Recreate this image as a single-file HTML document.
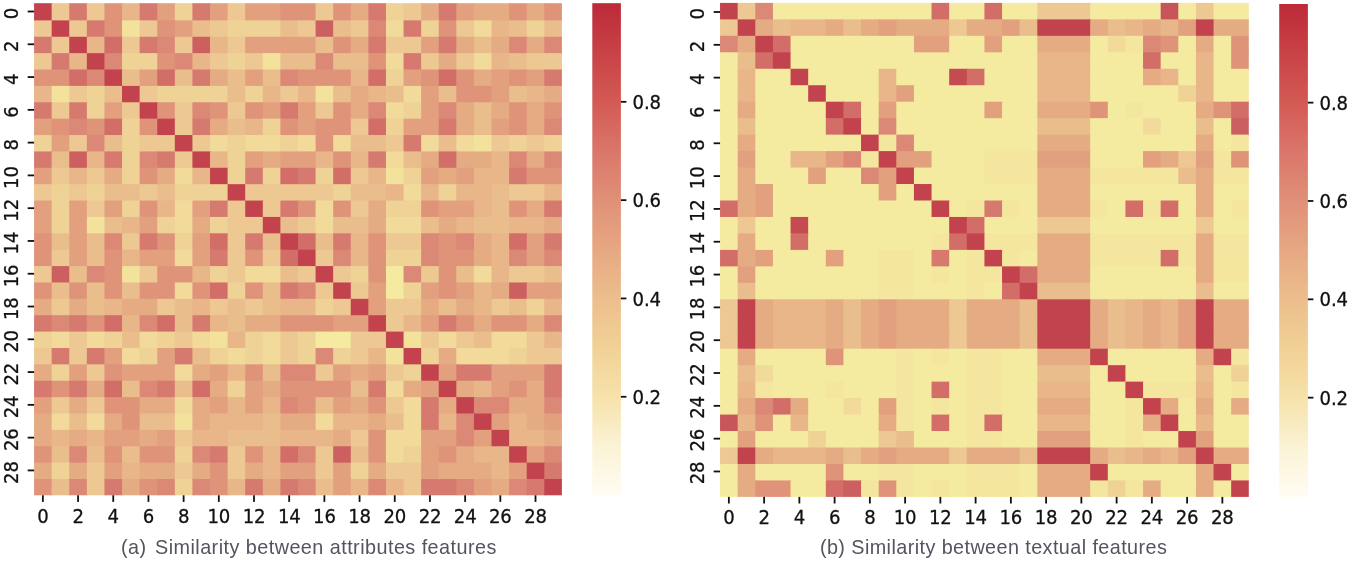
<!DOCTYPE html>
<html><head><meta charset="utf-8"><title>Similarity heatmaps</title>
<style>
html,body{margin:0;padding:0;background:#fff;}
body{width:1350px;height:562px;overflow:hidden;position:relative;}
svg{position:absolute;left:0;top:0;display:block;}
.tk{font-family:"DejaVu Sans", "Liberation Sans", sans-serif;font-size:19.7px;fill:#111;stroke:#111;stroke-width:0.3px;letter-spacing:-0.25px;}
.cap{font-family:"Liberation Sans", "DejaVu Sans", sans-serif;font-size:19.8px;letter-spacing:0.42px;fill:#54545f;}
</style></head><body>
<svg width="1350" height="562" viewBox="0 0 1350 562">
<rect width="1350" height="562" fill="#fff"/>
<filter id="soft" filterUnits="userSpaceOnUse" x="0" y="0" width="1350" height="562"><feGaussianBlur stdDeviation="0.4"/></filter>
<g filter="url(#soft)">
<rect x="34.07" y="3.20" width="18.59" height="18.18" fill="#c2434d"/>
<rect x="51.66" y="3.20" width="18.59" height="18.18" fill="#edc892"/>
<rect x="69.26" y="3.20" width="18.59" height="18.18" fill="#d67a70"/>
<rect x="86.85" y="3.20" width="18.59" height="18.18" fill="#edc892"/>
<rect x="104.45" y="3.20" width="18.59" height="18.18" fill="#df947a"/>
<rect x="122.04" y="3.20" width="18.59" height="18.18" fill="#e8b688"/>
<rect x="139.64" y="3.20" width="18.59" height="18.18" fill="#d67a70"/>
<rect x="157.23" y="3.20" width="18.59" height="18.18" fill="#e2a07e"/>
<rect x="174.82" y="3.20" width="18.59" height="18.18" fill="#efd296"/>
<rect x="192.42" y="3.20" width="18.59" height="18.18" fill="#d67a70"/>
<rect x="210.01" y="3.20" width="18.59" height="18.18" fill="#e2a07e"/>
<rect x="227.61" y="3.20" width="18.59" height="18.18" fill="#edc892"/>
<rect x="245.20" y="3.20" width="36.19" height="18.18" fill="#e2a07e"/>
<rect x="280.39" y="3.20" width="36.19" height="18.18" fill="#df947a"/>
<rect x="315.58" y="3.20" width="18.59" height="18.18" fill="#edc892"/>
<rect x="333.17" y="3.20" width="18.59" height="18.18" fill="#df947a"/>
<rect x="350.77" y="3.20" width="18.59" height="18.18" fill="#e5ab83"/>
<rect x="368.36" y="3.20" width="18.59" height="18.18" fill="#d67a70"/>
<rect x="385.96" y="3.20" width="18.59" height="18.18" fill="#efd296"/>
<rect x="403.55" y="3.20" width="18.59" height="18.18" fill="#edc892"/>
<rect x="421.15" y="3.20" width="18.59" height="18.18" fill="#e5ab83"/>
<rect x="438.74" y="3.20" width="18.59" height="18.18" fill="#d67a70"/>
<rect x="456.33" y="3.20" width="18.59" height="18.18" fill="#e2a07e"/>
<rect x="473.93" y="3.20" width="36.19" height="18.18" fill="#e5ab83"/>
<rect x="509.12" y="3.20" width="18.59" height="18.18" fill="#df947a"/>
<rect x="526.71" y="3.20" width="18.59" height="18.18" fill="#e5ab83"/>
<rect x="544.31" y="3.20" width="17.59" height="18.18" fill="#df947a"/>
<rect x="34.07" y="20.38" width="18.59" height="17.38" fill="#edc892"/>
<rect x="51.66" y="20.38" width="18.59" height="17.38" fill="#c2434d"/>
<rect x="69.26" y="20.38" width="18.59" height="17.38" fill="#edc892"/>
<rect x="86.85" y="20.38" width="18.59" height="17.38" fill="#d67a70"/>
<rect x="104.45" y="20.38" width="18.59" height="17.38" fill="#df947a"/>
<rect x="122.04" y="20.38" width="18.59" height="17.38" fill="#f3e29c"/>
<rect x="139.64" y="20.38" width="18.59" height="17.38" fill="#edc892"/>
<rect x="157.23" y="20.38" width="18.59" height="17.38" fill="#df947a"/>
<rect x="174.82" y="20.38" width="18.59" height="17.38" fill="#e2a07e"/>
<rect x="192.42" y="20.38" width="18.59" height="17.38" fill="#eabe8c"/>
<rect x="210.01" y="20.38" width="18.59" height="17.38" fill="#edc892"/>
<rect x="227.61" y="20.38" width="53.78" height="17.38" fill="#efd296"/>
<rect x="280.39" y="20.38" width="18.59" height="17.38" fill="#eabe8c"/>
<rect x="297.98" y="20.38" width="18.59" height="17.38" fill="#edc892"/>
<rect x="315.58" y="20.38" width="18.59" height="17.38" fill="#cc6060"/>
<rect x="333.17" y="20.38" width="18.59" height="17.38" fill="#eabe8c"/>
<rect x="350.77" y="20.38" width="18.59" height="17.38" fill="#edc892"/>
<rect x="368.36" y="20.38" width="18.59" height="17.38" fill="#db8876"/>
<rect x="385.96" y="20.38" width="18.59" height="17.38" fill="#f1da9a"/>
<rect x="403.55" y="20.38" width="18.59" height="17.38" fill="#d67a70"/>
<rect x="421.15" y="20.38" width="18.59" height="17.38" fill="#efd296"/>
<rect x="438.74" y="20.38" width="18.59" height="17.38" fill="#df947a"/>
<rect x="456.33" y="20.38" width="18.59" height="17.38" fill="#edc892"/>
<rect x="473.93" y="20.38" width="18.59" height="17.38" fill="#f1da9a"/>
<rect x="491.52" y="20.38" width="18.59" height="17.38" fill="#e8b688"/>
<rect x="509.12" y="20.38" width="18.59" height="17.38" fill="#eabe8c"/>
<rect x="526.71" y="20.38" width="18.59" height="17.38" fill="#efd296"/>
<rect x="544.31" y="20.38" width="17.59" height="17.38" fill="#eabe8c"/>
<rect x="34.07" y="36.76" width="18.59" height="17.38" fill="#d67a70"/>
<rect x="51.66" y="36.76" width="18.59" height="17.38" fill="#edc892"/>
<rect x="69.26" y="36.76" width="18.59" height="17.38" fill="#c2434d"/>
<rect x="86.85" y="36.76" width="18.59" height="17.38" fill="#e8b688"/>
<rect x="104.45" y="36.76" width="18.59" height="17.38" fill="#d26d68"/>
<rect x="122.04" y="36.76" width="18.59" height="17.38" fill="#edc892"/>
<rect x="139.64" y="36.76" width="18.59" height="17.38" fill="#d67a70"/>
<rect x="157.23" y="36.76" width="18.59" height="17.38" fill="#db8876"/>
<rect x="174.82" y="36.76" width="18.59" height="17.38" fill="#edc892"/>
<rect x="192.42" y="36.76" width="18.59" height="17.38" fill="#cc6060"/>
<rect x="210.01" y="36.76" width="18.59" height="17.38" fill="#e8b688"/>
<rect x="227.61" y="36.76" width="18.59" height="17.38" fill="#edc892"/>
<rect x="245.20" y="36.76" width="71.38" height="17.38" fill="#e2a07e"/>
<rect x="315.58" y="36.76" width="18.59" height="17.38" fill="#eabe8c"/>
<rect x="333.17" y="36.76" width="18.59" height="17.38" fill="#df947a"/>
<rect x="350.77" y="36.76" width="18.59" height="17.38" fill="#e5ab83"/>
<rect x="368.36" y="36.76" width="18.59" height="17.38" fill="#d67a70"/>
<rect x="385.96" y="36.76" width="36.19" height="17.38" fill="#edc892"/>
<rect x="421.15" y="36.76" width="18.59" height="17.38" fill="#e2a07e"/>
<rect x="438.74" y="36.76" width="18.59" height="17.38" fill="#d67a70"/>
<rect x="456.33" y="36.76" width="18.59" height="17.38" fill="#e5ab83"/>
<rect x="473.93" y="36.76" width="18.59" height="17.38" fill="#eabe8c"/>
<rect x="491.52" y="36.76" width="18.59" height="17.38" fill="#e5ab83"/>
<rect x="509.12" y="36.76" width="18.59" height="17.38" fill="#db8876"/>
<rect x="526.71" y="36.76" width="18.59" height="17.38" fill="#e5ab83"/>
<rect x="544.31" y="36.76" width="17.59" height="17.38" fill="#db8876"/>
<rect x="34.07" y="53.14" width="18.59" height="17.38" fill="#edc892"/>
<rect x="51.66" y="53.14" width="18.59" height="17.38" fill="#d67a70"/>
<rect x="69.26" y="53.14" width="18.59" height="17.38" fill="#e8b688"/>
<rect x="86.85" y="53.14" width="18.59" height="17.38" fill="#c2434d"/>
<rect x="104.45" y="53.14" width="18.59" height="17.38" fill="#db8876"/>
<rect x="122.04" y="53.14" width="36.19" height="17.38" fill="#efd296"/>
<rect x="157.23" y="53.14" width="18.59" height="17.38" fill="#df947a"/>
<rect x="174.82" y="53.14" width="18.59" height="17.38" fill="#db8876"/>
<rect x="192.42" y="53.14" width="18.59" height="17.38" fill="#e8b688"/>
<rect x="210.01" y="53.14" width="18.59" height="17.38" fill="#edc892"/>
<rect x="227.61" y="53.14" width="18.59" height="17.38" fill="#efd296"/>
<rect x="245.20" y="53.14" width="18.59" height="17.38" fill="#edc892"/>
<rect x="262.80" y="53.14" width="18.59" height="17.38" fill="#f3e29c"/>
<rect x="280.39" y="53.14" width="36.19" height="17.38" fill="#eabe8c"/>
<rect x="315.58" y="53.14" width="18.59" height="17.38" fill="#db8876"/>
<rect x="333.17" y="53.14" width="36.19" height="17.38" fill="#eabe8c"/>
<rect x="368.36" y="53.14" width="18.59" height="17.38" fill="#df947a"/>
<rect x="385.96" y="53.14" width="18.59" height="17.38" fill="#f1da9a"/>
<rect x="403.55" y="53.14" width="18.59" height="17.38" fill="#d67a70"/>
<rect x="421.15" y="53.14" width="18.59" height="17.38" fill="#edc892"/>
<rect x="438.74" y="53.14" width="18.59" height="17.38" fill="#e5ab83"/>
<rect x="456.33" y="53.14" width="18.59" height="17.38" fill="#edc892"/>
<rect x="473.93" y="53.14" width="18.59" height="17.38" fill="#f1da9a"/>
<rect x="491.52" y="53.14" width="18.59" height="17.38" fill="#e8b688"/>
<rect x="509.12" y="53.14" width="18.59" height="17.38" fill="#eabe8c"/>
<rect x="526.71" y="53.14" width="35.19" height="17.38" fill="#edc892"/>
<rect x="34.07" y="69.52" width="36.19" height="17.38" fill="#df947a"/>
<rect x="69.26" y="69.52" width="18.59" height="17.38" fill="#d26d68"/>
<rect x="86.85" y="69.52" width="18.59" height="17.38" fill="#db8876"/>
<rect x="104.45" y="69.52" width="18.59" height="17.38" fill="#c2434d"/>
<rect x="122.04" y="69.52" width="18.59" height="17.38" fill="#eabe8c"/>
<rect x="139.64" y="69.52" width="18.59" height="17.38" fill="#e2a07e"/>
<rect x="157.23" y="69.52" width="18.59" height="17.38" fill="#d26d68"/>
<rect x="174.82" y="69.52" width="18.59" height="17.38" fill="#eabe8c"/>
<rect x="192.42" y="69.52" width="18.59" height="17.38" fill="#d67a70"/>
<rect x="210.01" y="69.52" width="18.59" height="17.38" fill="#e5ab83"/>
<rect x="227.61" y="69.52" width="18.59" height="17.38" fill="#eabe8c"/>
<rect x="245.20" y="69.52" width="18.59" height="17.38" fill="#e2a07e"/>
<rect x="262.80" y="69.52" width="18.59" height="17.38" fill="#eabe8c"/>
<rect x="280.39" y="69.52" width="18.59" height="17.38" fill="#db8876"/>
<rect x="297.98" y="69.52" width="53.78" height="17.38" fill="#df947a"/>
<rect x="350.77" y="69.52" width="18.59" height="17.38" fill="#e8b688"/>
<rect x="368.36" y="69.52" width="18.59" height="17.38" fill="#d26d68"/>
<rect x="385.96" y="69.52" width="18.59" height="17.38" fill="#efd296"/>
<rect x="403.55" y="69.52" width="18.59" height="17.38" fill="#e2a07e"/>
<rect x="421.15" y="69.52" width="18.59" height="17.38" fill="#df947a"/>
<rect x="438.74" y="69.52" width="18.59" height="17.38" fill="#d26d68"/>
<rect x="456.33" y="69.52" width="18.59" height="17.38" fill="#df947a"/>
<rect x="473.93" y="69.52" width="18.59" height="17.38" fill="#e5ab83"/>
<rect x="491.52" y="69.52" width="18.59" height="17.38" fill="#e2a07e"/>
<rect x="509.12" y="69.52" width="18.59" height="17.38" fill="#df947a"/>
<rect x="526.71" y="69.52" width="18.59" height="17.38" fill="#e2a07e"/>
<rect x="544.31" y="69.52" width="17.59" height="17.38" fill="#d67a70"/>
<rect x="34.07" y="85.90" width="18.59" height="17.38" fill="#e8b688"/>
<rect x="51.66" y="85.90" width="18.59" height="17.38" fill="#f3e29c"/>
<rect x="69.26" y="85.90" width="18.59" height="17.38" fill="#edc892"/>
<rect x="86.85" y="85.90" width="18.59" height="17.38" fill="#efd296"/>
<rect x="104.45" y="85.90" width="18.59" height="17.38" fill="#eabe8c"/>
<rect x="122.04" y="85.90" width="18.59" height="17.38" fill="#c2434d"/>
<rect x="139.64" y="85.90" width="18.59" height="17.38" fill="#edc892"/>
<rect x="157.23" y="85.90" width="71.38" height="17.38" fill="#efd296"/>
<rect x="227.61" y="85.90" width="18.59" height="17.38" fill="#eabe8c"/>
<rect x="245.20" y="85.90" width="18.59" height="17.38" fill="#efd296"/>
<rect x="262.80" y="85.90" width="18.59" height="17.38" fill="#e8b688"/>
<rect x="280.39" y="85.90" width="18.59" height="17.38" fill="#edc892"/>
<rect x="297.98" y="85.90" width="18.59" height="17.38" fill="#e8b688"/>
<rect x="315.58" y="85.90" width="18.59" height="17.38" fill="#f3e29c"/>
<rect x="333.17" y="85.90" width="18.59" height="17.38" fill="#eabe8c"/>
<rect x="350.77" y="85.90" width="18.59" height="17.38" fill="#e5ab83"/>
<rect x="368.36" y="85.90" width="18.59" height="17.38" fill="#e8b688"/>
<rect x="385.96" y="85.90" width="18.59" height="17.38" fill="#eabe8c"/>
<rect x="403.55" y="85.90" width="18.59" height="17.38" fill="#f1da9a"/>
<rect x="421.15" y="85.90" width="18.59" height="17.38" fill="#e2a07e"/>
<rect x="438.74" y="85.90" width="18.59" height="17.38" fill="#eabe8c"/>
<rect x="456.33" y="85.90" width="36.19" height="17.38" fill="#df947a"/>
<rect x="491.52" y="85.90" width="18.59" height="17.38" fill="#e2a07e"/>
<rect x="509.12" y="85.90" width="18.59" height="17.38" fill="#eabe8c"/>
<rect x="526.71" y="85.90" width="18.59" height="17.38" fill="#e8b688"/>
<rect x="544.31" y="85.90" width="17.59" height="17.38" fill="#e5ab83"/>
<rect x="34.07" y="102.28" width="18.59" height="17.38" fill="#d67a70"/>
<rect x="51.66" y="102.28" width="18.59" height="17.38" fill="#edc892"/>
<rect x="69.26" y="102.28" width="18.59" height="17.38" fill="#d67a70"/>
<rect x="86.85" y="102.28" width="18.59" height="17.38" fill="#efd296"/>
<rect x="104.45" y="102.28" width="18.59" height="17.38" fill="#e2a07e"/>
<rect x="122.04" y="102.28" width="18.59" height="17.38" fill="#edc892"/>
<rect x="139.64" y="102.28" width="18.59" height="17.38" fill="#c2434d"/>
<rect x="157.23" y="102.28" width="18.59" height="17.38" fill="#df947a"/>
<rect x="174.82" y="102.28" width="18.59" height="17.38" fill="#edc892"/>
<rect x="192.42" y="102.28" width="18.59" height="17.38" fill="#db8876"/>
<rect x="210.01" y="102.28" width="18.59" height="17.38" fill="#df947a"/>
<rect x="227.61" y="102.28" width="18.59" height="17.38" fill="#edc892"/>
<rect x="245.20" y="102.28" width="18.59" height="17.38" fill="#df947a"/>
<rect x="262.80" y="102.28" width="18.59" height="17.38" fill="#e2a07e"/>
<rect x="280.39" y="102.28" width="18.59" height="17.38" fill="#d67a70"/>
<rect x="297.98" y="102.28" width="18.59" height="17.38" fill="#e2a07e"/>
<rect x="315.58" y="102.28" width="18.59" height="17.38" fill="#edc892"/>
<rect x="333.17" y="102.28" width="18.59" height="17.38" fill="#df947a"/>
<rect x="350.77" y="102.28" width="18.59" height="17.38" fill="#e5ab83"/>
<rect x="368.36" y="102.28" width="18.59" height="17.38" fill="#db8876"/>
<rect x="385.96" y="102.28" width="18.59" height="17.38" fill="#f1da9a"/>
<rect x="403.55" y="102.28" width="18.59" height="17.38" fill="#efd296"/>
<rect x="421.15" y="102.28" width="18.59" height="17.38" fill="#e2a07e"/>
<rect x="438.74" y="102.28" width="18.59" height="17.38" fill="#db8876"/>
<rect x="456.33" y="102.28" width="18.59" height="17.38" fill="#e5ab83"/>
<rect x="473.93" y="102.28" width="18.59" height="17.38" fill="#eabe8c"/>
<rect x="491.52" y="102.28" width="18.59" height="17.38" fill="#e5ab83"/>
<rect x="509.12" y="102.28" width="18.59" height="17.38" fill="#df947a"/>
<rect x="526.71" y="102.28" width="18.59" height="17.38" fill="#e5ab83"/>
<rect x="544.31" y="102.28" width="17.59" height="17.38" fill="#df947a"/>
<rect x="34.07" y="118.66" width="18.59" height="17.38" fill="#e2a07e"/>
<rect x="51.66" y="118.66" width="18.59" height="17.38" fill="#df947a"/>
<rect x="69.26" y="118.66" width="18.59" height="17.38" fill="#db8876"/>
<rect x="86.85" y="118.66" width="18.59" height="17.38" fill="#df947a"/>
<rect x="104.45" y="118.66" width="18.59" height="17.38" fill="#d26d68"/>
<rect x="122.04" y="118.66" width="18.59" height="17.38" fill="#efd296"/>
<rect x="139.64" y="118.66" width="18.59" height="17.38" fill="#df947a"/>
<rect x="157.23" y="118.66" width="18.59" height="17.38" fill="#c2434d"/>
<rect x="174.82" y="118.66" width="18.59" height="17.38" fill="#edc892"/>
<rect x="192.42" y="118.66" width="18.59" height="17.38" fill="#d67a70"/>
<rect x="210.01" y="118.66" width="18.59" height="17.38" fill="#e5ab83"/>
<rect x="227.61" y="118.66" width="18.59" height="17.38" fill="#eabe8c"/>
<rect x="245.20" y="118.66" width="18.59" height="17.38" fill="#e8b688"/>
<rect x="262.80" y="118.66" width="18.59" height="17.38" fill="#efd296"/>
<rect x="280.39" y="118.66" width="18.59" height="17.38" fill="#df947a"/>
<rect x="297.98" y="118.66" width="18.59" height="17.38" fill="#e2a07e"/>
<rect x="315.58" y="118.66" width="36.19" height="17.38" fill="#df947a"/>
<rect x="350.77" y="118.66" width="18.59" height="17.38" fill="#edc892"/>
<rect x="368.36" y="118.66" width="18.59" height="17.38" fill="#d26d68"/>
<rect x="385.96" y="118.66" width="18.59" height="17.38" fill="#efd296"/>
<rect x="403.55" y="118.66" width="36.19" height="17.38" fill="#e2a07e"/>
<rect x="438.74" y="118.66" width="18.59" height="17.38" fill="#d67a70"/>
<rect x="456.33" y="118.66" width="18.59" height="17.38" fill="#e5ab83"/>
<rect x="473.93" y="118.66" width="18.59" height="17.38" fill="#eabe8c"/>
<rect x="491.52" y="118.66" width="18.59" height="17.38" fill="#e2a07e"/>
<rect x="509.12" y="118.66" width="18.59" height="17.38" fill="#df947a"/>
<rect x="526.71" y="118.66" width="18.59" height="17.38" fill="#e5ab83"/>
<rect x="544.31" y="118.66" width="17.59" height="17.38" fill="#db8876"/>
<rect x="34.07" y="135.04" width="18.59" height="17.38" fill="#efd296"/>
<rect x="51.66" y="135.04" width="18.59" height="17.38" fill="#e2a07e"/>
<rect x="69.26" y="135.04" width="18.59" height="17.38" fill="#edc892"/>
<rect x="86.85" y="135.04" width="18.59" height="17.38" fill="#db8876"/>
<rect x="104.45" y="135.04" width="18.59" height="17.38" fill="#eabe8c"/>
<rect x="122.04" y="135.04" width="18.59" height="17.38" fill="#efd296"/>
<rect x="139.64" y="135.04" width="36.19" height="17.38" fill="#edc892"/>
<rect x="174.82" y="135.04" width="18.59" height="17.38" fill="#c2434d"/>
<rect x="192.42" y="135.04" width="18.59" height="17.38" fill="#edc892"/>
<rect x="210.01" y="135.04" width="18.59" height="17.38" fill="#f1da9a"/>
<rect x="227.61" y="135.04" width="18.59" height="17.38" fill="#efd296"/>
<rect x="245.20" y="135.04" width="36.19" height="17.38" fill="#f1da9a"/>
<rect x="280.39" y="135.04" width="18.59" height="17.38" fill="#efd296"/>
<rect x="297.98" y="135.04" width="18.59" height="17.38" fill="#f1da9a"/>
<rect x="315.58" y="135.04" width="18.59" height="17.38" fill="#df947a"/>
<rect x="333.17" y="135.04" width="18.59" height="17.38" fill="#f1da9a"/>
<rect x="350.77" y="135.04" width="36.19" height="17.38" fill="#eabe8c"/>
<rect x="385.96" y="135.04" width="18.59" height="17.38" fill="#edc892"/>
<rect x="403.55" y="135.04" width="18.59" height="17.38" fill="#d67a70"/>
<rect x="421.15" y="135.04" width="18.59" height="17.38" fill="#f1da9a"/>
<rect x="438.74" y="135.04" width="18.59" height="17.38" fill="#eabe8c"/>
<rect x="456.33" y="135.04" width="18.59" height="17.38" fill="#f1da9a"/>
<rect x="473.93" y="135.04" width="18.59" height="17.38" fill="#f3e29c"/>
<rect x="491.52" y="135.04" width="18.59" height="17.38" fill="#edc892"/>
<rect x="509.12" y="135.04" width="18.59" height="17.38" fill="#efd296"/>
<rect x="526.71" y="135.04" width="18.59" height="17.38" fill="#edc892"/>
<rect x="544.31" y="135.04" width="17.59" height="17.38" fill="#efd296"/>
<rect x="34.07" y="151.42" width="18.59" height="17.38" fill="#d67a70"/>
<rect x="51.66" y="151.42" width="18.59" height="17.38" fill="#eabe8c"/>
<rect x="69.26" y="151.42" width="18.59" height="17.38" fill="#cc6060"/>
<rect x="86.85" y="151.42" width="18.59" height="17.38" fill="#e8b688"/>
<rect x="104.45" y="151.42" width="18.59" height="17.38" fill="#d67a70"/>
<rect x="122.04" y="151.42" width="18.59" height="17.38" fill="#efd296"/>
<rect x="139.64" y="151.42" width="18.59" height="17.38" fill="#db8876"/>
<rect x="157.23" y="151.42" width="18.59" height="17.38" fill="#d67a70"/>
<rect x="174.82" y="151.42" width="18.59" height="17.38" fill="#edc892"/>
<rect x="192.42" y="151.42" width="18.59" height="17.38" fill="#c2434d"/>
<rect x="210.01" y="151.42" width="18.59" height="17.38" fill="#e8b688"/>
<rect x="227.61" y="151.42" width="18.59" height="17.38" fill="#efd296"/>
<rect x="245.20" y="151.42" width="18.59" height="17.38" fill="#e2a07e"/>
<rect x="262.80" y="151.42" width="18.59" height="17.38" fill="#e5ab83"/>
<rect x="280.39" y="151.42" width="36.19" height="17.38" fill="#e2a07e"/>
<rect x="315.58" y="151.42" width="18.59" height="17.38" fill="#e8b688"/>
<rect x="333.17" y="151.42" width="18.59" height="17.38" fill="#df947a"/>
<rect x="350.77" y="151.42" width="18.59" height="17.38" fill="#e8b688"/>
<rect x="368.36" y="151.42" width="18.59" height="17.38" fill="#d67a70"/>
<rect x="385.96" y="151.42" width="18.59" height="17.38" fill="#f1da9a"/>
<rect x="403.55" y="151.42" width="18.59" height="17.38" fill="#eabe8c"/>
<rect x="421.15" y="151.42" width="18.59" height="17.38" fill="#e5ab83"/>
<rect x="438.74" y="151.42" width="18.59" height="17.38" fill="#d26d68"/>
<rect x="456.33" y="151.42" width="36.19" height="17.38" fill="#e5ab83"/>
<rect x="491.52" y="151.42" width="18.59" height="17.38" fill="#e8b688"/>
<rect x="509.12" y="151.42" width="18.59" height="17.38" fill="#db8876"/>
<rect x="526.71" y="151.42" width="18.59" height="17.38" fill="#e5ab83"/>
<rect x="544.31" y="151.42" width="17.59" height="17.38" fill="#db8876"/>
<rect x="34.07" y="167.80" width="18.59" height="17.38" fill="#e2a07e"/>
<rect x="51.66" y="167.80" width="18.59" height="17.38" fill="#edc892"/>
<rect x="69.26" y="167.80" width="18.59" height="17.38" fill="#e8b688"/>
<rect x="86.85" y="167.80" width="18.59" height="17.38" fill="#edc892"/>
<rect x="104.45" y="167.80" width="18.59" height="17.38" fill="#e5ab83"/>
<rect x="122.04" y="167.80" width="18.59" height="17.38" fill="#efd296"/>
<rect x="139.64" y="167.80" width="18.59" height="17.38" fill="#df947a"/>
<rect x="157.23" y="167.80" width="18.59" height="17.38" fill="#e5ab83"/>
<rect x="174.82" y="167.80" width="18.59" height="17.38" fill="#f1da9a"/>
<rect x="192.42" y="167.80" width="18.59" height="17.38" fill="#e8b688"/>
<rect x="210.01" y="167.80" width="18.59" height="17.38" fill="#c2434d"/>
<rect x="227.61" y="167.80" width="18.59" height="17.38" fill="#efd296"/>
<rect x="245.20" y="167.80" width="18.59" height="17.38" fill="#d67a70"/>
<rect x="262.80" y="167.80" width="18.59" height="17.38" fill="#efd296"/>
<rect x="280.39" y="167.80" width="18.59" height="17.38" fill="#d26d68"/>
<rect x="297.98" y="167.80" width="18.59" height="17.38" fill="#d67a70"/>
<rect x="315.58" y="167.80" width="18.59" height="17.38" fill="#efd296"/>
<rect x="333.17" y="167.80" width="18.59" height="17.38" fill="#d26d68"/>
<rect x="350.77" y="167.80" width="18.59" height="17.38" fill="#edc892"/>
<rect x="368.36" y="167.80" width="18.59" height="17.38" fill="#e8b688"/>
<rect x="385.96" y="167.80" width="18.59" height="17.38" fill="#f3e29c"/>
<rect x="403.55" y="167.80" width="18.59" height="17.38" fill="#efd296"/>
<rect x="421.15" y="167.80" width="18.59" height="17.38" fill="#e2a07e"/>
<rect x="438.74" y="167.80" width="18.59" height="17.38" fill="#e5ab83"/>
<rect x="456.33" y="167.80" width="18.59" height="17.38" fill="#e2a07e"/>
<rect x="473.93" y="167.80" width="36.19" height="17.38" fill="#e8b688"/>
<rect x="509.12" y="167.80" width="18.59" height="17.38" fill="#d67a70"/>
<rect x="526.71" y="167.80" width="35.19" height="17.38" fill="#df947a"/>
<rect x="34.07" y="184.18" width="18.59" height="17.38" fill="#edc892"/>
<rect x="51.66" y="184.18" width="18.59" height="17.38" fill="#efd296"/>
<rect x="69.26" y="184.18" width="18.59" height="17.38" fill="#edc892"/>
<rect x="86.85" y="184.18" width="18.59" height="17.38" fill="#efd296"/>
<rect x="104.45" y="184.18" width="36.19" height="17.38" fill="#eabe8c"/>
<rect x="139.64" y="184.18" width="18.59" height="17.38" fill="#edc892"/>
<rect x="157.23" y="184.18" width="18.59" height="17.38" fill="#eabe8c"/>
<rect x="174.82" y="184.18" width="53.78" height="17.38" fill="#efd296"/>
<rect x="227.61" y="184.18" width="18.59" height="17.38" fill="#c2434d"/>
<rect x="245.20" y="184.18" width="88.97" height="17.38" fill="#edc892"/>
<rect x="333.17" y="184.18" width="18.59" height="17.38" fill="#efd296"/>
<rect x="350.77" y="184.18" width="36.19" height="17.38" fill="#eabe8c"/>
<rect x="385.96" y="184.18" width="18.59" height="17.38" fill="#e8b688"/>
<rect x="403.55" y="184.18" width="18.59" height="17.38" fill="#f1da9a"/>
<rect x="421.15" y="184.18" width="18.59" height="17.38" fill="#e8b688"/>
<rect x="438.74" y="184.18" width="18.59" height="17.38" fill="#efd296"/>
<rect x="456.33" y="184.18" width="36.19" height="17.38" fill="#e8b688"/>
<rect x="491.52" y="184.18" width="18.59" height="17.38" fill="#eabe8c"/>
<rect x="509.12" y="184.18" width="36.19" height="17.38" fill="#edc892"/>
<rect x="544.31" y="184.18" width="17.59" height="17.38" fill="#e8b688"/>
<rect x="34.07" y="200.56" width="18.59" height="17.38" fill="#e2a07e"/>
<rect x="51.66" y="200.56" width="18.59" height="17.38" fill="#efd296"/>
<rect x="69.26" y="200.56" width="18.59" height="17.38" fill="#e2a07e"/>
<rect x="86.85" y="200.56" width="18.59" height="17.38" fill="#edc892"/>
<rect x="104.45" y="200.56" width="18.59" height="17.38" fill="#e2a07e"/>
<rect x="122.04" y="200.56" width="18.59" height="17.38" fill="#efd296"/>
<rect x="139.64" y="200.56" width="18.59" height="17.38" fill="#df947a"/>
<rect x="157.23" y="200.56" width="18.59" height="17.38" fill="#e8b688"/>
<rect x="174.82" y="200.56" width="18.59" height="17.38" fill="#f1da9a"/>
<rect x="192.42" y="200.56" width="18.59" height="17.38" fill="#e2a07e"/>
<rect x="210.01" y="200.56" width="18.59" height="17.38" fill="#d67a70"/>
<rect x="227.61" y="200.56" width="18.59" height="17.38" fill="#edc892"/>
<rect x="245.20" y="200.56" width="18.59" height="17.38" fill="#c2434d"/>
<rect x="262.80" y="200.56" width="18.59" height="17.38" fill="#edc892"/>
<rect x="280.39" y="200.56" width="18.59" height="17.38" fill="#d67a70"/>
<rect x="297.98" y="200.56" width="18.59" height="17.38" fill="#df947a"/>
<rect x="315.58" y="200.56" width="18.59" height="17.38" fill="#f1da9a"/>
<rect x="333.17" y="200.56" width="18.59" height="17.38" fill="#df947a"/>
<rect x="350.77" y="200.56" width="18.59" height="17.38" fill="#edc892"/>
<rect x="368.36" y="200.56" width="18.59" height="17.38" fill="#e5ab83"/>
<rect x="385.96" y="200.56" width="36.19" height="17.38" fill="#efd296"/>
<rect x="421.15" y="200.56" width="18.59" height="17.38" fill="#df947a"/>
<rect x="438.74" y="200.56" width="36.19" height="17.38" fill="#e2a07e"/>
<rect x="473.93" y="200.56" width="18.59" height="17.38" fill="#e8b688"/>
<rect x="491.52" y="200.56" width="18.59" height="17.38" fill="#eabe8c"/>
<rect x="509.12" y="200.56" width="18.59" height="17.38" fill="#df947a"/>
<rect x="526.71" y="200.56" width="18.59" height="17.38" fill="#e5ab83"/>
<rect x="544.31" y="200.56" width="17.59" height="17.38" fill="#d67a70"/>
<rect x="34.07" y="216.94" width="18.59" height="17.38" fill="#e2a07e"/>
<rect x="51.66" y="216.94" width="18.59" height="17.38" fill="#efd296"/>
<rect x="69.26" y="216.94" width="18.59" height="17.38" fill="#e2a07e"/>
<rect x="86.85" y="216.94" width="18.59" height="17.38" fill="#f3e29c"/>
<rect x="104.45" y="216.94" width="18.59" height="17.38" fill="#eabe8c"/>
<rect x="122.04" y="216.94" width="18.59" height="17.38" fill="#e8b688"/>
<rect x="139.64" y="216.94" width="18.59" height="17.38" fill="#e2a07e"/>
<rect x="157.23" y="216.94" width="18.59" height="17.38" fill="#efd296"/>
<rect x="174.82" y="216.94" width="18.59" height="17.38" fill="#f1da9a"/>
<rect x="192.42" y="216.94" width="18.59" height="17.38" fill="#e5ab83"/>
<rect x="210.01" y="216.94" width="18.59" height="17.38" fill="#efd296"/>
<rect x="227.61" y="216.94" width="36.19" height="17.38" fill="#edc892"/>
<rect x="262.80" y="216.94" width="18.59" height="17.38" fill="#c2434d"/>
<rect x="280.39" y="216.94" width="18.59" height="17.38" fill="#eabe8c"/>
<rect x="297.98" y="216.94" width="18.59" height="17.38" fill="#edc892"/>
<rect x="315.58" y="216.94" width="18.59" height="17.38" fill="#f1da9a"/>
<rect x="333.17" y="216.94" width="36.19" height="17.38" fill="#eabe8c"/>
<rect x="368.36" y="216.94" width="18.59" height="17.38" fill="#e5ab83"/>
<rect x="385.96" y="216.94" width="36.19" height="17.38" fill="#f1da9a"/>
<rect x="421.15" y="216.94" width="18.59" height="17.38" fill="#eabe8c"/>
<rect x="438.74" y="216.94" width="18.59" height="17.38" fill="#e5ab83"/>
<rect x="456.33" y="216.94" width="18.59" height="17.38" fill="#e8b688"/>
<rect x="473.93" y="216.94" width="36.19" height="17.38" fill="#eabe8c"/>
<rect x="509.12" y="216.94" width="36.19" height="17.38" fill="#e8b688"/>
<rect x="544.31" y="216.94" width="17.59" height="17.38" fill="#e5ab83"/>
<rect x="34.07" y="233.32" width="18.59" height="17.38" fill="#df947a"/>
<rect x="51.66" y="233.32" width="18.59" height="17.38" fill="#eabe8c"/>
<rect x="69.26" y="233.32" width="18.59" height="17.38" fill="#e2a07e"/>
<rect x="86.85" y="233.32" width="18.59" height="17.38" fill="#eabe8c"/>
<rect x="104.45" y="233.32" width="18.59" height="17.38" fill="#db8876"/>
<rect x="122.04" y="233.32" width="18.59" height="17.38" fill="#edc892"/>
<rect x="139.64" y="233.32" width="18.59" height="17.38" fill="#d67a70"/>
<rect x="157.23" y="233.32" width="18.59" height="17.38" fill="#df947a"/>
<rect x="174.82" y="233.32" width="18.59" height="17.38" fill="#efd296"/>
<rect x="192.42" y="233.32" width="18.59" height="17.38" fill="#e2a07e"/>
<rect x="210.01" y="233.32" width="18.59" height="17.38" fill="#d26d68"/>
<rect x="227.61" y="233.32" width="18.59" height="17.38" fill="#edc892"/>
<rect x="245.20" y="233.32" width="18.59" height="17.38" fill="#d67a70"/>
<rect x="262.80" y="233.32" width="18.59" height="17.38" fill="#eabe8c"/>
<rect x="280.39" y="233.32" width="18.59" height="17.38" fill="#c2434d"/>
<rect x="297.98" y="233.32" width="18.59" height="17.38" fill="#d26d68"/>
<rect x="315.58" y="233.32" width="18.59" height="17.38" fill="#eabe8c"/>
<rect x="333.17" y="233.32" width="18.59" height="17.38" fill="#d67a70"/>
<rect x="350.77" y="233.32" width="18.59" height="17.38" fill="#e8b688"/>
<rect x="368.36" y="233.32" width="18.59" height="17.38" fill="#df947a"/>
<rect x="385.96" y="233.32" width="36.19" height="17.38" fill="#edc892"/>
<rect x="421.15" y="233.32" width="18.59" height="17.38" fill="#db8876"/>
<rect x="438.74" y="233.32" width="18.59" height="17.38" fill="#df947a"/>
<rect x="456.33" y="233.32" width="18.59" height="17.38" fill="#db8876"/>
<rect x="473.93" y="233.32" width="18.59" height="17.38" fill="#e5ab83"/>
<rect x="491.52" y="233.32" width="18.59" height="17.38" fill="#e8b688"/>
<rect x="509.12" y="233.32" width="18.59" height="17.38" fill="#d26d68"/>
<rect x="526.71" y="233.32" width="18.59" height="17.38" fill="#e2a07e"/>
<rect x="544.31" y="233.32" width="17.59" height="17.38" fill="#d67a70"/>
<rect x="34.07" y="249.70" width="18.59" height="17.38" fill="#df947a"/>
<rect x="51.66" y="249.70" width="18.59" height="17.38" fill="#edc892"/>
<rect x="69.26" y="249.70" width="18.59" height="17.38" fill="#e2a07e"/>
<rect x="86.85" y="249.70" width="18.59" height="17.38" fill="#eabe8c"/>
<rect x="104.45" y="249.70" width="18.59" height="17.38" fill="#df947a"/>
<rect x="122.04" y="249.70" width="18.59" height="17.38" fill="#e8b688"/>
<rect x="139.64" y="249.70" width="36.19" height="17.38" fill="#e2a07e"/>
<rect x="174.82" y="249.70" width="18.59" height="17.38" fill="#f1da9a"/>
<rect x="192.42" y="249.70" width="18.59" height="17.38" fill="#e2a07e"/>
<rect x="210.01" y="249.70" width="18.59" height="17.38" fill="#d67a70"/>
<rect x="227.61" y="249.70" width="18.59" height="17.38" fill="#edc892"/>
<rect x="245.20" y="249.70" width="18.59" height="17.38" fill="#df947a"/>
<rect x="262.80" y="249.70" width="18.59" height="17.38" fill="#edc892"/>
<rect x="280.39" y="249.70" width="18.59" height="17.38" fill="#d26d68"/>
<rect x="297.98" y="249.70" width="18.59" height="17.38" fill="#c2434d"/>
<rect x="315.58" y="249.70" width="18.59" height="17.38" fill="#edc892"/>
<rect x="333.17" y="249.70" width="18.59" height="17.38" fill="#db8876"/>
<rect x="350.77" y="249.70" width="18.59" height="17.38" fill="#e8b688"/>
<rect x="368.36" y="249.70" width="18.59" height="17.38" fill="#df947a"/>
<rect x="385.96" y="249.70" width="36.19" height="17.38" fill="#efd296"/>
<rect x="421.15" y="249.70" width="18.59" height="17.38" fill="#db8876"/>
<rect x="438.74" y="249.70" width="36.19" height="17.38" fill="#df947a"/>
<rect x="473.93" y="249.70" width="18.59" height="17.38" fill="#e5ab83"/>
<rect x="491.52" y="249.70" width="18.59" height="17.38" fill="#e8b688"/>
<rect x="509.12" y="249.70" width="18.59" height="17.38" fill="#db8876"/>
<rect x="526.71" y="249.70" width="18.59" height="17.38" fill="#e2a07e"/>
<rect x="544.31" y="249.70" width="17.59" height="17.38" fill="#db8876"/>
<rect x="34.07" y="266.08" width="18.59" height="17.38" fill="#edc892"/>
<rect x="51.66" y="266.08" width="18.59" height="17.38" fill="#cc6060"/>
<rect x="69.26" y="266.08" width="18.59" height="17.38" fill="#eabe8c"/>
<rect x="86.85" y="266.08" width="18.59" height="17.38" fill="#db8876"/>
<rect x="104.45" y="266.08" width="18.59" height="17.38" fill="#df947a"/>
<rect x="122.04" y="266.08" width="18.59" height="17.38" fill="#f3e29c"/>
<rect x="139.64" y="266.08" width="18.59" height="17.38" fill="#edc892"/>
<rect x="157.23" y="266.08" width="36.19" height="17.38" fill="#df947a"/>
<rect x="192.42" y="266.08" width="18.59" height="17.38" fill="#e8b688"/>
<rect x="210.01" y="266.08" width="18.59" height="17.38" fill="#efd296"/>
<rect x="227.61" y="266.08" width="18.59" height="17.38" fill="#edc892"/>
<rect x="245.20" y="266.08" width="36.19" height="17.38" fill="#f1da9a"/>
<rect x="280.39" y="266.08" width="18.59" height="17.38" fill="#eabe8c"/>
<rect x="297.98" y="266.08" width="18.59" height="17.38" fill="#edc892"/>
<rect x="315.58" y="266.08" width="18.59" height="17.38" fill="#c2434d"/>
<rect x="333.17" y="266.08" width="18.59" height="17.38" fill="#edc892"/>
<rect x="350.77" y="266.08" width="18.59" height="17.38" fill="#efd296"/>
<rect x="368.36" y="266.08" width="18.59" height="17.38" fill="#df947a"/>
<rect x="385.96" y="266.08" width="18.59" height="17.38" fill="#f5eba0"/>
<rect x="403.55" y="266.08" width="18.59" height="17.38" fill="#db8876"/>
<rect x="421.15" y="266.08" width="18.59" height="17.38" fill="#edc892"/>
<rect x="438.74" y="266.08" width="18.59" height="17.38" fill="#df947a"/>
<rect x="456.33" y="266.08" width="18.59" height="17.38" fill="#eabe8c"/>
<rect x="473.93" y="266.08" width="18.59" height="17.38" fill="#f1da9a"/>
<rect x="491.52" y="266.08" width="18.59" height="17.38" fill="#e8b688"/>
<rect x="509.12" y="266.08" width="36.19" height="17.38" fill="#edc892"/>
<rect x="544.31" y="266.08" width="17.59" height="17.38" fill="#eabe8c"/>
<rect x="34.07" y="282.46" width="18.59" height="17.38" fill="#df947a"/>
<rect x="51.66" y="282.46" width="18.59" height="17.38" fill="#eabe8c"/>
<rect x="69.26" y="282.46" width="18.59" height="17.38" fill="#df947a"/>
<rect x="86.85" y="282.46" width="18.59" height="17.38" fill="#eabe8c"/>
<rect x="104.45" y="282.46" width="18.59" height="17.38" fill="#df947a"/>
<rect x="122.04" y="282.46" width="18.59" height="17.38" fill="#eabe8c"/>
<rect x="139.64" y="282.46" width="36.19" height="17.38" fill="#df947a"/>
<rect x="174.82" y="282.46" width="18.59" height="17.38" fill="#f1da9a"/>
<rect x="192.42" y="282.46" width="18.59" height="17.38" fill="#df947a"/>
<rect x="210.01" y="282.46" width="18.59" height="17.38" fill="#d26d68"/>
<rect x="227.61" y="282.46" width="18.59" height="17.38" fill="#efd296"/>
<rect x="245.20" y="282.46" width="18.59" height="17.38" fill="#df947a"/>
<rect x="262.80" y="282.46" width="18.59" height="17.38" fill="#eabe8c"/>
<rect x="280.39" y="282.46" width="18.59" height="17.38" fill="#d67a70"/>
<rect x="297.98" y="282.46" width="18.59" height="17.38" fill="#db8876"/>
<rect x="315.58" y="282.46" width="18.59" height="17.38" fill="#edc892"/>
<rect x="333.17" y="282.46" width="18.59" height="17.38" fill="#c2434d"/>
<rect x="350.77" y="282.46" width="18.59" height="17.38" fill="#edc892"/>
<rect x="368.36" y="282.46" width="18.59" height="17.38" fill="#e2a07e"/>
<rect x="385.96" y="282.46" width="18.59" height="17.38" fill="#f5eba0"/>
<rect x="403.55" y="282.46" width="18.59" height="17.38" fill="#efd296"/>
<rect x="421.15" y="282.46" width="18.59" height="17.38" fill="#e2a07e"/>
<rect x="438.74" y="282.46" width="18.59" height="17.38" fill="#df947a"/>
<rect x="456.33" y="282.46" width="18.59" height="17.38" fill="#e2a07e"/>
<rect x="473.93" y="282.46" width="18.59" height="17.38" fill="#e8b688"/>
<rect x="491.52" y="282.46" width="18.59" height="17.38" fill="#e5ab83"/>
<rect x="509.12" y="282.46" width="18.59" height="17.38" fill="#cc6060"/>
<rect x="526.71" y="282.46" width="35.19" height="17.38" fill="#e2a07e"/>
<rect x="34.07" y="298.84" width="18.59" height="17.38" fill="#e5ab83"/>
<rect x="51.66" y="298.84" width="18.59" height="17.38" fill="#edc892"/>
<rect x="69.26" y="298.84" width="18.59" height="17.38" fill="#e5ab83"/>
<rect x="86.85" y="298.84" width="18.59" height="17.38" fill="#eabe8c"/>
<rect x="104.45" y="298.84" width="18.59" height="17.38" fill="#e8b688"/>
<rect x="122.04" y="298.84" width="36.19" height="17.38" fill="#e5ab83"/>
<rect x="157.23" y="298.84" width="18.59" height="17.38" fill="#edc892"/>
<rect x="174.82" y="298.84" width="18.59" height="17.38" fill="#eabe8c"/>
<rect x="192.42" y="298.84" width="18.59" height="17.38" fill="#e8b688"/>
<rect x="210.01" y="298.84" width="18.59" height="17.38" fill="#edc892"/>
<rect x="227.61" y="298.84" width="18.59" height="17.38" fill="#eabe8c"/>
<rect x="245.20" y="298.84" width="18.59" height="17.38" fill="#edc892"/>
<rect x="262.80" y="298.84" width="18.59" height="17.38" fill="#eabe8c"/>
<rect x="280.39" y="298.84" width="36.19" height="17.38" fill="#e8b688"/>
<rect x="315.58" y="298.84" width="18.59" height="17.38" fill="#efd296"/>
<rect x="333.17" y="298.84" width="18.59" height="17.38" fill="#edc892"/>
<rect x="350.77" y="298.84" width="18.59" height="17.38" fill="#c2434d"/>
<rect x="368.36" y="298.84" width="18.59" height="17.38" fill="#e2a07e"/>
<rect x="385.96" y="298.84" width="36.19" height="17.38" fill="#edc892"/>
<rect x="421.15" y="298.84" width="18.59" height="17.38" fill="#e5ab83"/>
<rect x="438.74" y="298.84" width="18.59" height="17.38" fill="#eabe8c"/>
<rect x="456.33" y="298.84" width="18.59" height="17.38" fill="#e5ab83"/>
<rect x="473.93" y="298.84" width="18.59" height="17.38" fill="#e8b688"/>
<rect x="491.52" y="298.84" width="18.59" height="17.38" fill="#edc892"/>
<rect x="509.12" y="298.84" width="18.59" height="17.38" fill="#eabe8c"/>
<rect x="526.71" y="298.84" width="18.59" height="17.38" fill="#efd296"/>
<rect x="544.31" y="298.84" width="17.59" height="17.38" fill="#e8b688"/>
<rect x="34.07" y="315.22" width="18.59" height="17.38" fill="#d67a70"/>
<rect x="51.66" y="315.22" width="18.59" height="17.38" fill="#db8876"/>
<rect x="69.26" y="315.22" width="18.59" height="17.38" fill="#d67a70"/>
<rect x="86.85" y="315.22" width="18.59" height="17.38" fill="#df947a"/>
<rect x="104.45" y="315.22" width="18.59" height="17.38" fill="#d26d68"/>
<rect x="122.04" y="315.22" width="18.59" height="17.38" fill="#e8b688"/>
<rect x="139.64" y="315.22" width="18.59" height="17.38" fill="#db8876"/>
<rect x="157.23" y="315.22" width="18.59" height="17.38" fill="#d26d68"/>
<rect x="174.82" y="315.22" width="18.59" height="17.38" fill="#eabe8c"/>
<rect x="192.42" y="315.22" width="18.59" height="17.38" fill="#d67a70"/>
<rect x="210.01" y="315.22" width="18.59" height="17.38" fill="#e8b688"/>
<rect x="227.61" y="315.22" width="18.59" height="17.38" fill="#eabe8c"/>
<rect x="245.20" y="315.22" width="36.19" height="17.38" fill="#e5ab83"/>
<rect x="280.39" y="315.22" width="53.78" height="17.38" fill="#df947a"/>
<rect x="333.17" y="315.22" width="36.19" height="17.38" fill="#e2a07e"/>
<rect x="368.36" y="315.22" width="18.59" height="17.38" fill="#c2434d"/>
<rect x="385.96" y="315.22" width="18.59" height="17.38" fill="#edc892"/>
<rect x="403.55" y="315.22" width="18.59" height="17.38" fill="#e8b688"/>
<rect x="421.15" y="315.22" width="18.59" height="17.38" fill="#e2a07e"/>
<rect x="438.74" y="315.22" width="18.59" height="17.38" fill="#d67a70"/>
<rect x="456.33" y="315.22" width="18.59" height="17.38" fill="#df947a"/>
<rect x="473.93" y="315.22" width="18.59" height="17.38" fill="#e5ab83"/>
<rect x="491.52" y="315.22" width="36.19" height="17.38" fill="#df947a"/>
<rect x="526.71" y="315.22" width="18.59" height="17.38" fill="#e5ab83"/>
<rect x="544.31" y="315.22" width="17.59" height="17.38" fill="#db8876"/>
<rect x="34.07" y="331.60" width="18.59" height="17.38" fill="#efd296"/>
<rect x="51.66" y="331.60" width="18.59" height="17.38" fill="#f1da9a"/>
<rect x="69.26" y="331.60" width="18.59" height="17.38" fill="#edc892"/>
<rect x="86.85" y="331.60" width="18.59" height="17.38" fill="#f1da9a"/>
<rect x="104.45" y="331.60" width="18.59" height="17.38" fill="#efd296"/>
<rect x="122.04" y="331.60" width="18.59" height="17.38" fill="#eabe8c"/>
<rect x="139.64" y="331.60" width="18.59" height="17.38" fill="#f1da9a"/>
<rect x="157.23" y="331.60" width="18.59" height="17.38" fill="#efd296"/>
<rect x="174.82" y="331.60" width="18.59" height="17.38" fill="#edc892"/>
<rect x="192.42" y="331.60" width="18.59" height="17.38" fill="#f1da9a"/>
<rect x="210.01" y="331.60" width="18.59" height="17.38" fill="#f3e29c"/>
<rect x="227.61" y="331.60" width="18.59" height="17.38" fill="#e8b688"/>
<rect x="245.20" y="331.60" width="18.59" height="17.38" fill="#efd296"/>
<rect x="262.80" y="331.60" width="18.59" height="17.38" fill="#f1da9a"/>
<rect x="280.39" y="331.60" width="18.59" height="17.38" fill="#edc892"/>
<rect x="297.98" y="331.60" width="18.59" height="17.38" fill="#efd296"/>
<rect x="315.58" y="331.60" width="36.19" height="17.38" fill="#f5eba0"/>
<rect x="350.77" y="331.60" width="36.19" height="17.38" fill="#edc892"/>
<rect x="385.96" y="331.60" width="18.59" height="17.38" fill="#c2434d"/>
<rect x="403.55" y="331.60" width="18.59" height="17.38" fill="#f3e29c"/>
<rect x="421.15" y="331.60" width="18.59" height="17.38" fill="#edc892"/>
<rect x="438.74" y="331.60" width="18.59" height="17.38" fill="#f1da9a"/>
<rect x="456.33" y="331.60" width="18.59" height="17.38" fill="#edc892"/>
<rect x="473.93" y="331.60" width="18.59" height="17.38" fill="#eabe8c"/>
<rect x="491.52" y="331.60" width="36.19" height="17.38" fill="#f1da9a"/>
<rect x="526.71" y="331.60" width="18.59" height="17.38" fill="#edc892"/>
<rect x="544.31" y="331.60" width="17.59" height="17.38" fill="#e8b688"/>
<rect x="34.07" y="347.98" width="18.59" height="17.38" fill="#edc892"/>
<rect x="51.66" y="347.98" width="18.59" height="17.38" fill="#d67a70"/>
<rect x="69.26" y="347.98" width="18.59" height="17.38" fill="#edc892"/>
<rect x="86.85" y="347.98" width="18.59" height="17.38" fill="#d67a70"/>
<rect x="104.45" y="347.98" width="18.59" height="17.38" fill="#e2a07e"/>
<rect x="122.04" y="347.98" width="18.59" height="17.38" fill="#f1da9a"/>
<rect x="139.64" y="347.98" width="18.59" height="17.38" fill="#efd296"/>
<rect x="157.23" y="347.98" width="18.59" height="17.38" fill="#e2a07e"/>
<rect x="174.82" y="347.98" width="18.59" height="17.38" fill="#d67a70"/>
<rect x="192.42" y="347.98" width="18.59" height="17.38" fill="#eabe8c"/>
<rect x="210.01" y="347.98" width="18.59" height="17.38" fill="#efd296"/>
<rect x="227.61" y="347.98" width="18.59" height="17.38" fill="#f1da9a"/>
<rect x="245.20" y="347.98" width="18.59" height="17.38" fill="#efd296"/>
<rect x="262.80" y="347.98" width="18.59" height="17.38" fill="#f1da9a"/>
<rect x="280.39" y="347.98" width="18.59" height="17.38" fill="#edc892"/>
<rect x="297.98" y="347.98" width="18.59" height="17.38" fill="#efd296"/>
<rect x="315.58" y="347.98" width="18.59" height="17.38" fill="#db8876"/>
<rect x="333.17" y="347.98" width="18.59" height="17.38" fill="#efd296"/>
<rect x="350.77" y="347.98" width="18.59" height="17.38" fill="#edc892"/>
<rect x="368.36" y="347.98" width="18.59" height="17.38" fill="#e8b688"/>
<rect x="385.96" y="347.98" width="18.59" height="17.38" fill="#f3e29c"/>
<rect x="403.55" y="347.98" width="18.59" height="17.38" fill="#c2434d"/>
<rect x="421.15" y="347.98" width="18.59" height="17.38" fill="#efd296"/>
<rect x="438.74" y="347.98" width="18.59" height="17.38" fill="#e5ab83"/>
<rect x="456.33" y="347.98" width="53.78" height="17.38" fill="#f1da9a"/>
<rect x="509.12" y="347.98" width="18.59" height="17.38" fill="#efd296"/>
<rect x="526.71" y="347.98" width="35.19" height="17.38" fill="#edc892"/>
<rect x="34.07" y="364.36" width="18.59" height="17.38" fill="#e5ab83"/>
<rect x="51.66" y="364.36" width="18.59" height="17.38" fill="#efd296"/>
<rect x="69.26" y="364.36" width="18.59" height="17.38" fill="#e2a07e"/>
<rect x="86.85" y="364.36" width="18.59" height="17.38" fill="#edc892"/>
<rect x="104.45" y="364.36" width="18.59" height="17.38" fill="#df947a"/>
<rect x="122.04" y="364.36" width="53.78" height="17.38" fill="#e2a07e"/>
<rect x="174.82" y="364.36" width="18.59" height="17.38" fill="#f1da9a"/>
<rect x="192.42" y="364.36" width="18.59" height="17.38" fill="#e5ab83"/>
<rect x="210.01" y="364.36" width="18.59" height="17.38" fill="#e2a07e"/>
<rect x="227.61" y="364.36" width="18.59" height="17.38" fill="#e8b688"/>
<rect x="245.20" y="364.36" width="18.59" height="17.38" fill="#df947a"/>
<rect x="262.80" y="364.36" width="18.59" height="17.38" fill="#eabe8c"/>
<rect x="280.39" y="364.36" width="36.19" height="17.38" fill="#db8876"/>
<rect x="315.58" y="364.36" width="18.59" height="17.38" fill="#edc892"/>
<rect x="333.17" y="364.36" width="18.59" height="17.38" fill="#e2a07e"/>
<rect x="350.77" y="364.36" width="18.59" height="17.38" fill="#e5ab83"/>
<rect x="368.36" y="364.36" width="18.59" height="17.38" fill="#e2a07e"/>
<rect x="385.96" y="364.36" width="18.59" height="17.38" fill="#edc892"/>
<rect x="403.55" y="364.36" width="18.59" height="17.38" fill="#efd296"/>
<rect x="421.15" y="364.36" width="18.59" height="17.38" fill="#c2434d"/>
<rect x="438.74" y="364.36" width="18.59" height="17.38" fill="#e2a07e"/>
<rect x="456.33" y="364.36" width="36.19" height="17.38" fill="#d67a70"/>
<rect x="491.52" y="364.36" width="53.78" height="17.38" fill="#e2a07e"/>
<rect x="544.31" y="364.36" width="17.59" height="17.38" fill="#d67a70"/>
<rect x="34.07" y="380.74" width="18.59" height="17.38" fill="#d67a70"/>
<rect x="51.66" y="380.74" width="18.59" height="17.38" fill="#df947a"/>
<rect x="69.26" y="380.74" width="18.59" height="17.38" fill="#d67a70"/>
<rect x="86.85" y="380.74" width="18.59" height="17.38" fill="#e5ab83"/>
<rect x="104.45" y="380.74" width="18.59" height="17.38" fill="#d26d68"/>
<rect x="122.04" y="380.74" width="18.59" height="17.38" fill="#eabe8c"/>
<rect x="139.64" y="380.74" width="18.59" height="17.38" fill="#db8876"/>
<rect x="157.23" y="380.74" width="18.59" height="17.38" fill="#d67a70"/>
<rect x="174.82" y="380.74" width="18.59" height="17.38" fill="#eabe8c"/>
<rect x="192.42" y="380.74" width="18.59" height="17.38" fill="#d26d68"/>
<rect x="210.01" y="380.74" width="18.59" height="17.38" fill="#e5ab83"/>
<rect x="227.61" y="380.74" width="18.59" height="17.38" fill="#efd296"/>
<rect x="245.20" y="380.74" width="18.59" height="17.38" fill="#e2a07e"/>
<rect x="262.80" y="380.74" width="18.59" height="17.38" fill="#e5ab83"/>
<rect x="280.39" y="380.74" width="71.38" height="17.38" fill="#df947a"/>
<rect x="350.77" y="380.74" width="18.59" height="17.38" fill="#eabe8c"/>
<rect x="368.36" y="380.74" width="18.59" height="17.38" fill="#d67a70"/>
<rect x="385.96" y="380.74" width="18.59" height="17.38" fill="#f1da9a"/>
<rect x="403.55" y="380.74" width="18.59" height="17.38" fill="#e5ab83"/>
<rect x="421.15" y="380.74" width="18.59" height="17.38" fill="#e2a07e"/>
<rect x="438.74" y="380.74" width="18.59" height="17.38" fill="#c2434d"/>
<rect x="456.33" y="380.74" width="18.59" height="17.38" fill="#e5ab83"/>
<rect x="473.93" y="380.74" width="18.59" height="17.38" fill="#e8b688"/>
<rect x="491.52" y="380.74" width="18.59" height="17.38" fill="#e2a07e"/>
<rect x="509.12" y="380.74" width="18.59" height="17.38" fill="#df947a"/>
<rect x="526.71" y="380.74" width="18.59" height="17.38" fill="#e5ab83"/>
<rect x="544.31" y="380.74" width="17.59" height="17.38" fill="#d67a70"/>
<rect x="34.07" y="397.12" width="18.59" height="17.38" fill="#e2a07e"/>
<rect x="51.66" y="397.12" width="18.59" height="17.38" fill="#edc892"/>
<rect x="69.26" y="397.12" width="18.59" height="17.38" fill="#e5ab83"/>
<rect x="86.85" y="397.12" width="18.59" height="17.38" fill="#edc892"/>
<rect x="104.45" y="397.12" width="36.19" height="17.38" fill="#df947a"/>
<rect x="139.64" y="397.12" width="36.19" height="17.38" fill="#e5ab83"/>
<rect x="174.82" y="397.12" width="18.59" height="17.38" fill="#f1da9a"/>
<rect x="192.42" y="397.12" width="18.59" height="17.38" fill="#e5ab83"/>
<rect x="210.01" y="397.12" width="18.59" height="17.38" fill="#e2a07e"/>
<rect x="227.61" y="397.12" width="18.59" height="17.38" fill="#e8b688"/>
<rect x="245.20" y="397.12" width="18.59" height="17.38" fill="#e2a07e"/>
<rect x="262.80" y="397.12" width="18.59" height="17.38" fill="#e8b688"/>
<rect x="280.39" y="397.12" width="18.59" height="17.38" fill="#db8876"/>
<rect x="297.98" y="397.12" width="18.59" height="17.38" fill="#df947a"/>
<rect x="315.58" y="397.12" width="18.59" height="17.38" fill="#eabe8c"/>
<rect x="333.17" y="397.12" width="18.59" height="17.38" fill="#e2a07e"/>
<rect x="350.77" y="397.12" width="18.59" height="17.38" fill="#e5ab83"/>
<rect x="368.36" y="397.12" width="18.59" height="17.38" fill="#df947a"/>
<rect x="385.96" y="397.12" width="18.59" height="17.38" fill="#edc892"/>
<rect x="403.55" y="397.12" width="18.59" height="17.38" fill="#f1da9a"/>
<rect x="421.15" y="397.12" width="18.59" height="17.38" fill="#d67a70"/>
<rect x="438.74" y="397.12" width="18.59" height="17.38" fill="#e5ab83"/>
<rect x="456.33" y="397.12" width="18.59" height="17.38" fill="#c2434d"/>
<rect x="473.93" y="397.12" width="36.19" height="17.38" fill="#db8876"/>
<rect x="509.12" y="397.12" width="36.19" height="17.38" fill="#e5ab83"/>
<rect x="544.31" y="397.12" width="17.59" height="17.38" fill="#db8876"/>
<rect x="34.07" y="413.50" width="18.59" height="17.38" fill="#e5ab83"/>
<rect x="51.66" y="413.50" width="18.59" height="17.38" fill="#f1da9a"/>
<rect x="69.26" y="413.50" width="18.59" height="17.38" fill="#eabe8c"/>
<rect x="86.85" y="413.50" width="18.59" height="17.38" fill="#f1da9a"/>
<rect x="104.45" y="413.50" width="18.59" height="17.38" fill="#e5ab83"/>
<rect x="122.04" y="413.50" width="18.59" height="17.38" fill="#df947a"/>
<rect x="139.64" y="413.50" width="36.19" height="17.38" fill="#eabe8c"/>
<rect x="174.82" y="413.50" width="18.59" height="17.38" fill="#f3e29c"/>
<rect x="192.42" y="413.50" width="18.59" height="17.38" fill="#e5ab83"/>
<rect x="210.01" y="413.50" width="53.78" height="17.38" fill="#e8b688"/>
<rect x="262.80" y="413.50" width="18.59" height="17.38" fill="#eabe8c"/>
<rect x="280.39" y="413.50" width="36.19" height="17.38" fill="#e5ab83"/>
<rect x="315.58" y="413.50" width="18.59" height="17.38" fill="#f1da9a"/>
<rect x="333.17" y="413.50" width="36.19" height="17.38" fill="#e8b688"/>
<rect x="368.36" y="413.50" width="18.59" height="17.38" fill="#e5ab83"/>
<rect x="385.96" y="413.50" width="18.59" height="17.38" fill="#eabe8c"/>
<rect x="403.55" y="413.50" width="18.59" height="17.38" fill="#f1da9a"/>
<rect x="421.15" y="413.50" width="18.59" height="17.38" fill="#d67a70"/>
<rect x="438.74" y="413.50" width="18.59" height="17.38" fill="#e8b688"/>
<rect x="456.33" y="413.50" width="18.59" height="17.38" fill="#db8876"/>
<rect x="473.93" y="413.50" width="18.59" height="17.38" fill="#c2434d"/>
<rect x="491.52" y="413.50" width="18.59" height="17.38" fill="#e2a07e"/>
<rect x="509.12" y="413.50" width="18.59" height="17.38" fill="#e8b688"/>
<rect x="526.71" y="413.50" width="18.59" height="17.38" fill="#e5ab83"/>
<rect x="544.31" y="413.50" width="17.59" height="17.38" fill="#e2a07e"/>
<rect x="34.07" y="429.88" width="18.59" height="17.38" fill="#e5ab83"/>
<rect x="51.66" y="429.88" width="18.59" height="17.38" fill="#e8b688"/>
<rect x="69.26" y="429.88" width="18.59" height="17.38" fill="#e5ab83"/>
<rect x="86.85" y="429.88" width="18.59" height="17.38" fill="#e8b688"/>
<rect x="104.45" y="429.88" width="36.19" height="17.38" fill="#e2a07e"/>
<rect x="139.64" y="429.88" width="18.59" height="17.38" fill="#e5ab83"/>
<rect x="157.23" y="429.88" width="18.59" height="17.38" fill="#e2a07e"/>
<rect x="174.82" y="429.88" width="18.59" height="17.38" fill="#edc892"/>
<rect x="192.42" y="429.88" width="36.19" height="17.38" fill="#e8b688"/>
<rect x="227.61" y="429.88" width="53.78" height="17.38" fill="#eabe8c"/>
<rect x="280.39" y="429.88" width="53.78" height="17.38" fill="#e8b688"/>
<rect x="333.17" y="429.88" width="18.59" height="17.38" fill="#e5ab83"/>
<rect x="350.77" y="429.88" width="18.59" height="17.38" fill="#edc892"/>
<rect x="368.36" y="429.88" width="18.59" height="17.38" fill="#df947a"/>
<rect x="385.96" y="429.88" width="36.19" height="17.38" fill="#f1da9a"/>
<rect x="421.15" y="429.88" width="36.19" height="17.38" fill="#e2a07e"/>
<rect x="456.33" y="429.88" width="18.59" height="17.38" fill="#db8876"/>
<rect x="473.93" y="429.88" width="18.59" height="17.38" fill="#e2a07e"/>
<rect x="491.52" y="429.88" width="18.59" height="17.38" fill="#c2434d"/>
<rect x="509.12" y="429.88" width="36.19" height="17.38" fill="#e8b688"/>
<rect x="544.31" y="429.88" width="17.59" height="17.38" fill="#e5ab83"/>
<rect x="34.07" y="446.26" width="18.59" height="17.38" fill="#df947a"/>
<rect x="51.66" y="446.26" width="18.59" height="17.38" fill="#eabe8c"/>
<rect x="69.26" y="446.26" width="18.59" height="17.38" fill="#db8876"/>
<rect x="86.85" y="446.26" width="18.59" height="17.38" fill="#eabe8c"/>
<rect x="104.45" y="446.26" width="18.59" height="17.38" fill="#df947a"/>
<rect x="122.04" y="446.26" width="18.59" height="17.38" fill="#eabe8c"/>
<rect x="139.64" y="446.26" width="36.19" height="17.38" fill="#df947a"/>
<rect x="174.82" y="446.26" width="18.59" height="17.38" fill="#efd296"/>
<rect x="192.42" y="446.26" width="18.59" height="17.38" fill="#db8876"/>
<rect x="210.01" y="446.26" width="18.59" height="17.38" fill="#d67a70"/>
<rect x="227.61" y="446.26" width="18.59" height="17.38" fill="#edc892"/>
<rect x="245.20" y="446.26" width="18.59" height="17.38" fill="#df947a"/>
<rect x="262.80" y="446.26" width="18.59" height="17.38" fill="#e8b688"/>
<rect x="280.39" y="446.26" width="18.59" height="17.38" fill="#d26d68"/>
<rect x="297.98" y="446.26" width="18.59" height="17.38" fill="#db8876"/>
<rect x="315.58" y="446.26" width="18.59" height="17.38" fill="#edc892"/>
<rect x="333.17" y="446.26" width="18.59" height="17.38" fill="#cc6060"/>
<rect x="350.77" y="446.26" width="18.59" height="17.38" fill="#eabe8c"/>
<rect x="368.36" y="446.26" width="18.59" height="17.38" fill="#df947a"/>
<rect x="385.96" y="446.26" width="18.59" height="17.38" fill="#f1da9a"/>
<rect x="403.55" y="446.26" width="18.59" height="17.38" fill="#efd296"/>
<rect x="421.15" y="446.26" width="18.59" height="17.38" fill="#e2a07e"/>
<rect x="438.74" y="446.26" width="18.59" height="17.38" fill="#df947a"/>
<rect x="456.33" y="446.26" width="18.59" height="17.38" fill="#e5ab83"/>
<rect x="473.93" y="446.26" width="36.19" height="17.38" fill="#e8b688"/>
<rect x="509.12" y="446.26" width="18.59" height="17.38" fill="#c2434d"/>
<rect x="526.71" y="446.26" width="18.59" height="17.38" fill="#e2a07e"/>
<rect x="544.31" y="446.26" width="17.59" height="17.38" fill="#db8876"/>
<rect x="34.07" y="462.64" width="18.59" height="17.38" fill="#e5ab83"/>
<rect x="51.66" y="462.64" width="18.59" height="17.38" fill="#efd296"/>
<rect x="69.26" y="462.64" width="18.59" height="17.38" fill="#e5ab83"/>
<rect x="86.85" y="462.64" width="18.59" height="17.38" fill="#edc892"/>
<rect x="104.45" y="462.64" width="18.59" height="17.38" fill="#e2a07e"/>
<rect x="122.04" y="462.64" width="18.59" height="17.38" fill="#e8b688"/>
<rect x="139.64" y="462.64" width="36.19" height="17.38" fill="#e5ab83"/>
<rect x="174.82" y="462.64" width="18.59" height="17.38" fill="#edc892"/>
<rect x="192.42" y="462.64" width="18.59" height="17.38" fill="#e5ab83"/>
<rect x="210.01" y="462.64" width="18.59" height="17.38" fill="#df947a"/>
<rect x="227.61" y="462.64" width="18.59" height="17.38" fill="#edc892"/>
<rect x="245.20" y="462.64" width="18.59" height="17.38" fill="#e5ab83"/>
<rect x="262.80" y="462.64" width="18.59" height="17.38" fill="#e8b688"/>
<rect x="280.39" y="462.64" width="36.19" height="17.38" fill="#e2a07e"/>
<rect x="315.58" y="462.64" width="18.59" height="17.38" fill="#edc892"/>
<rect x="333.17" y="462.64" width="18.59" height="17.38" fill="#e2a07e"/>
<rect x="350.77" y="462.64" width="18.59" height="17.38" fill="#efd296"/>
<rect x="368.36" y="462.64" width="18.59" height="17.38" fill="#e5ab83"/>
<rect x="385.96" y="462.64" width="36.19" height="17.38" fill="#edc892"/>
<rect x="421.15" y="462.64" width="18.59" height="17.38" fill="#e2a07e"/>
<rect x="438.74" y="462.64" width="53.78" height="17.38" fill="#e5ab83"/>
<rect x="491.52" y="462.64" width="18.59" height="17.38" fill="#e8b688"/>
<rect x="509.12" y="462.64" width="18.59" height="17.38" fill="#e2a07e"/>
<rect x="526.71" y="462.64" width="18.59" height="17.38" fill="#c2434d"/>
<rect x="544.31" y="462.64" width="17.59" height="17.38" fill="#d67a70"/>
<rect x="34.07" y="479.02" width="18.59" height="16.28" fill="#df947a"/>
<rect x="51.66" y="479.02" width="18.59" height="16.28" fill="#eabe8c"/>
<rect x="69.26" y="479.02" width="18.59" height="16.28" fill="#db8876"/>
<rect x="86.85" y="479.02" width="18.59" height="16.28" fill="#edc892"/>
<rect x="104.45" y="479.02" width="18.59" height="16.28" fill="#d67a70"/>
<rect x="122.04" y="479.02" width="18.59" height="16.28" fill="#e5ab83"/>
<rect x="139.64" y="479.02" width="18.59" height="16.28" fill="#df947a"/>
<rect x="157.23" y="479.02" width="18.59" height="16.28" fill="#db8876"/>
<rect x="174.82" y="479.02" width="18.59" height="16.28" fill="#efd296"/>
<rect x="192.42" y="479.02" width="18.59" height="16.28" fill="#db8876"/>
<rect x="210.01" y="479.02" width="18.59" height="16.28" fill="#df947a"/>
<rect x="227.61" y="479.02" width="18.59" height="16.28" fill="#e8b688"/>
<rect x="245.20" y="479.02" width="18.59" height="16.28" fill="#d67a70"/>
<rect x="262.80" y="479.02" width="18.59" height="16.28" fill="#e5ab83"/>
<rect x="280.39" y="479.02" width="18.59" height="16.28" fill="#d67a70"/>
<rect x="297.98" y="479.02" width="18.59" height="16.28" fill="#db8876"/>
<rect x="315.58" y="479.02" width="18.59" height="16.28" fill="#eabe8c"/>
<rect x="333.17" y="479.02" width="18.59" height="16.28" fill="#e2a07e"/>
<rect x="350.77" y="479.02" width="18.59" height="16.28" fill="#e8b688"/>
<rect x="368.36" y="479.02" width="18.59" height="16.28" fill="#db8876"/>
<rect x="385.96" y="479.02" width="18.59" height="16.28" fill="#e8b688"/>
<rect x="403.55" y="479.02" width="18.59" height="16.28" fill="#edc892"/>
<rect x="421.15" y="479.02" width="36.19" height="16.28" fill="#d67a70"/>
<rect x="456.33" y="479.02" width="18.59" height="16.28" fill="#db8876"/>
<rect x="473.93" y="479.02" width="18.59" height="16.28" fill="#e2a07e"/>
<rect x="491.52" y="479.02" width="18.59" height="16.28" fill="#e5ab83"/>
<rect x="509.12" y="479.02" width="18.59" height="16.28" fill="#db8876"/>
<rect x="526.71" y="479.02" width="18.59" height="16.28" fill="#d67a70"/>
<rect x="544.31" y="479.02" width="17.59" height="16.28" fill="#c2434d"/>
</g>
<rect x="41.97" y="495.30" width="1.8" height="6.6" fill="#111"/>
<rect x="27.67" y="10.60" width="6.4" height="1.8" fill="#111"/>
<text transform="translate(42.87 522.80) scale(0.92 1)" text-anchor="middle" class="tk">0</text>
<text transform="translate(17.77 13.70) rotate(-90) scale(0.92 1)" text-anchor="middle" class="tk">0</text>
<rect x="77.16" y="495.30" width="1.8" height="6.6" fill="#111"/>
<rect x="27.67" y="43.38" width="6.4" height="1.8" fill="#111"/>
<text transform="translate(78.06 522.80) scale(0.92 1)" text-anchor="middle" class="tk">2</text>
<text transform="translate(17.77 46.48) rotate(-90) scale(0.92 1)" text-anchor="middle" class="tk">2</text>
<rect x="112.34" y="495.30" width="1.8" height="6.6" fill="#111"/>
<rect x="27.67" y="76.16" width="6.4" height="1.8" fill="#111"/>
<text transform="translate(113.24 522.80) scale(0.92 1)" text-anchor="middle" class="tk">4</text>
<text transform="translate(17.77 79.26) rotate(-90) scale(0.92 1)" text-anchor="middle" class="tk">4</text>
<rect x="147.53" y="495.30" width="1.8" height="6.6" fill="#111"/>
<rect x="27.67" y="108.94" width="6.4" height="1.8" fill="#111"/>
<text transform="translate(148.43 522.80) scale(0.92 1)" text-anchor="middle" class="tk">6</text>
<text transform="translate(17.77 112.04) rotate(-90) scale(0.92 1)" text-anchor="middle" class="tk">6</text>
<rect x="182.72" y="495.30" width="1.8" height="6.6" fill="#111"/>
<rect x="27.67" y="141.72" width="6.4" height="1.8" fill="#111"/>
<text transform="translate(183.62 522.80) scale(0.92 1)" text-anchor="middle" class="tk">8</text>
<text transform="translate(17.77 144.82) rotate(-90) scale(0.92 1)" text-anchor="middle" class="tk">8</text>
<rect x="217.91" y="495.30" width="1.8" height="6.6" fill="#111"/>
<rect x="27.67" y="174.50" width="6.4" height="1.8" fill="#111"/>
<text transform="translate(218.81 522.80) scale(0.92 1)" text-anchor="middle" class="tk">10</text>
<text transform="translate(17.77 177.60) rotate(-90) scale(0.92 1)" text-anchor="middle" class="tk">10</text>
<rect x="253.10" y="495.30" width="1.8" height="6.6" fill="#111"/>
<rect x="27.67" y="207.28" width="6.4" height="1.8" fill="#111"/>
<text transform="translate(254.00 522.80) scale(0.92 1)" text-anchor="middle" class="tk">12</text>
<text transform="translate(17.77 210.38) rotate(-90) scale(0.92 1)" text-anchor="middle" class="tk">12</text>
<rect x="288.29" y="495.30" width="1.8" height="6.6" fill="#111"/>
<rect x="27.67" y="240.06" width="6.4" height="1.8" fill="#111"/>
<text transform="translate(289.19 522.80) scale(0.92 1)" text-anchor="middle" class="tk">14</text>
<text transform="translate(17.77 243.16) rotate(-90) scale(0.92 1)" text-anchor="middle" class="tk">14</text>
<rect x="323.48" y="495.30" width="1.8" height="6.6" fill="#111"/>
<rect x="27.67" y="272.84" width="6.4" height="1.8" fill="#111"/>
<text transform="translate(324.38 522.80) scale(0.92 1)" text-anchor="middle" class="tk">16</text>
<text transform="translate(17.77 275.94) rotate(-90) scale(0.92 1)" text-anchor="middle" class="tk">16</text>
<rect x="358.67" y="495.30" width="1.8" height="6.6" fill="#111"/>
<rect x="27.67" y="305.62" width="6.4" height="1.8" fill="#111"/>
<text transform="translate(359.57 522.80) scale(0.92 1)" text-anchor="middle" class="tk">18</text>
<text transform="translate(17.77 308.72) rotate(-90) scale(0.92 1)" text-anchor="middle" class="tk">18</text>
<rect x="393.85" y="495.30" width="1.8" height="6.6" fill="#111"/>
<rect x="27.67" y="338.40" width="6.4" height="1.8" fill="#111"/>
<text transform="translate(394.75 522.80) scale(0.92 1)" text-anchor="middle" class="tk">20</text>
<text transform="translate(17.77 341.50) rotate(-90) scale(0.92 1)" text-anchor="middle" class="tk">20</text>
<rect x="429.04" y="495.30" width="1.8" height="6.6" fill="#111"/>
<rect x="27.67" y="371.18" width="6.4" height="1.8" fill="#111"/>
<text transform="translate(429.94 522.80) scale(0.92 1)" text-anchor="middle" class="tk">22</text>
<text transform="translate(17.77 374.28) rotate(-90) scale(0.92 1)" text-anchor="middle" class="tk">22</text>
<rect x="464.23" y="495.30" width="1.8" height="6.6" fill="#111"/>
<rect x="27.67" y="403.96" width="6.4" height="1.8" fill="#111"/>
<text transform="translate(465.13 522.80) scale(0.92 1)" text-anchor="middle" class="tk">24</text>
<text transform="translate(17.77 407.06) rotate(-90) scale(0.92 1)" text-anchor="middle" class="tk">24</text>
<rect x="499.42" y="495.30" width="1.8" height="6.6" fill="#111"/>
<rect x="27.67" y="436.74" width="6.4" height="1.8" fill="#111"/>
<text transform="translate(500.32 522.80) scale(0.92 1)" text-anchor="middle" class="tk">26</text>
<text transform="translate(17.77 439.84) rotate(-90) scale(0.92 1)" text-anchor="middle" class="tk">26</text>
<rect x="534.61" y="495.30" width="1.8" height="6.6" fill="#111"/>
<rect x="27.67" y="469.52" width="6.4" height="1.8" fill="#111"/>
<text transform="translate(535.51 522.80) scale(0.92 1)" text-anchor="middle" class="tk">28</text>
<text transform="translate(17.77 472.62) rotate(-90) scale(0.92 1)" text-anchor="middle" class="tk">28</text>
<linearGradient id="ga" x1="0" y1="1" x2="0" y2="0"><stop offset="0.00" stop-color="#FFFCF3"/><stop offset="0.10" stop-color="#FBF3D6"/><stop offset="0.20" stop-color="#F6E2AA"/><stop offset="0.30" stop-color="#F1D196"/><stop offset="0.40" stop-color="#ECBE8C"/><stop offset="0.50" stop-color="#E6A882"/><stop offset="0.60" stop-color="#E09078"/><stop offset="0.70" stop-color="#DA766A"/><stop offset="0.80" stop-color="#D35A54"/><stop offset="0.90" stop-color="#C84246"/><stop offset="1.00" stop-color="#BC2A38"/></linearGradient>
<rect x="592.30" y="3.20" width="28.60" height="492.10" fill="url(#ga)"/>
<rect x="620.90" y="395.88" width="5.5" height="1.8" fill="#111"/>
<text transform="translate(632.60 403.88) scale(0.92 1)" class="tk">0.2</text>
<rect x="620.90" y="297.56" width="5.5" height="1.8" fill="#111"/>
<text transform="translate(632.60 305.56) scale(0.92 1)" class="tk">0.4</text>
<rect x="620.90" y="199.24" width="5.5" height="1.8" fill="#111"/>
<text transform="translate(632.60 207.24) scale(0.92 1)" class="tk">0.6</text>
<rect x="620.90" y="100.92" width="5.5" height="1.8" fill="#111"/>
<text transform="translate(632.60 108.92) scale(0.92 1)" class="tk">0.8</text>
<g filter="url(#soft)">
<rect x="720.05" y="2.90" width="18.62" height="17.47" fill="#c2434d"/>
<rect x="737.67" y="2.90" width="18.62" height="17.47" fill="#edc892"/>
<rect x="755.30" y="2.90" width="18.62" height="17.47" fill="#db8876"/>
<rect x="772.92" y="2.90" width="159.62" height="17.47" fill="#f5eba0"/>
<rect x="931.55" y="2.90" width="18.62" height="17.47" fill="#d26d68"/>
<rect x="949.17" y="2.90" width="36.25" height="17.47" fill="#f5eba0"/>
<rect x="984.42" y="2.90" width="18.62" height="17.47" fill="#d26d68"/>
<rect x="1002.05" y="2.90" width="36.25" height="17.47" fill="#f5eba0"/>
<rect x="1037.30" y="2.90" width="53.88" height="17.47" fill="#edc892"/>
<rect x="1090.17" y="2.90" width="71.50" height="17.47" fill="#f5eba0"/>
<rect x="1160.67" y="2.90" width="18.62" height="17.47" fill="#c85558"/>
<rect x="1178.30" y="2.90" width="18.62" height="17.47" fill="#f5eba0"/>
<rect x="1195.92" y="2.90" width="18.62" height="17.47" fill="#edc892"/>
<rect x="1213.55" y="2.90" width="35.25" height="17.47" fill="#f5eba0"/>
<rect x="720.05" y="19.37" width="18.62" height="17.47" fill="#edc892"/>
<rect x="737.67" y="19.37" width="18.62" height="17.47" fill="#c2434d"/>
<rect x="755.30" y="19.37" width="18.62" height="17.47" fill="#e5ab83"/>
<rect x="772.92" y="19.37" width="18.62" height="17.47" fill="#eabe8c"/>
<rect x="790.55" y="19.37" width="36.25" height="17.47" fill="#e8b688"/>
<rect x="825.80" y="19.37" width="18.62" height="17.47" fill="#e5ab83"/>
<rect x="843.42" y="19.37" width="18.62" height="17.47" fill="#eabe8c"/>
<rect x="861.05" y="19.37" width="18.62" height="17.47" fill="#e5ab83"/>
<rect x="878.67" y="19.37" width="18.62" height="17.47" fill="#e2a07e"/>
<rect x="896.30" y="19.37" width="53.88" height="17.47" fill="#e5ab83"/>
<rect x="949.17" y="19.37" width="18.62" height="17.47" fill="#edc892"/>
<rect x="966.80" y="19.37" width="36.25" height="17.47" fill="#e5ab83"/>
<rect x="1002.05" y="19.37" width="18.62" height="17.47" fill="#e2a07e"/>
<rect x="1019.67" y="19.37" width="18.62" height="17.47" fill="#eabe8c"/>
<rect x="1037.30" y="19.37" width="53.88" height="17.47" fill="#c2434d"/>
<rect x="1090.17" y="19.37" width="18.62" height="17.47" fill="#e5ab83"/>
<rect x="1107.80" y="19.37" width="18.62" height="17.47" fill="#eabe8c"/>
<rect x="1125.42" y="19.37" width="18.62" height="17.47" fill="#e8b688"/>
<rect x="1143.05" y="19.37" width="18.62" height="17.47" fill="#e5ab83"/>
<rect x="1160.67" y="19.37" width="18.62" height="17.47" fill="#e8b688"/>
<rect x="1178.30" y="19.37" width="18.62" height="17.47" fill="#e2a07e"/>
<rect x="1195.92" y="19.37" width="18.62" height="17.47" fill="#c2434d"/>
<rect x="1213.55" y="19.37" width="35.25" height="17.47" fill="#e5ab83"/>
<rect x="720.05" y="35.83" width="18.62" height="17.47" fill="#db8876"/>
<rect x="737.67" y="35.83" width="18.62" height="17.47" fill="#e5ab83"/>
<rect x="755.30" y="35.83" width="18.62" height="17.47" fill="#c2434d"/>
<rect x="772.92" y="35.83" width="18.62" height="17.47" fill="#d26d68"/>
<rect x="790.55" y="35.83" width="124.38" height="17.47" fill="#f5eba0"/>
<rect x="913.92" y="35.83" width="36.25" height="17.47" fill="#e2a07e"/>
<rect x="949.17" y="35.83" width="36.25" height="17.47" fill="#f5eba0"/>
<rect x="984.42" y="35.83" width="18.62" height="17.47" fill="#e2a07e"/>
<rect x="1002.05" y="35.83" width="36.25" height="17.47" fill="#f5eba0"/>
<rect x="1037.30" y="35.83" width="53.88" height="17.47" fill="#e5ab83"/>
<rect x="1090.17" y="35.83" width="18.62" height="17.47" fill="#f5eba0"/>
<rect x="1107.80" y="35.83" width="18.62" height="17.47" fill="#f1da9a"/>
<rect x="1125.42" y="35.83" width="18.62" height="17.47" fill="#f4e69e"/>
<rect x="1143.05" y="35.83" width="18.62" height="17.47" fill="#db8876"/>
<rect x="1160.67" y="35.83" width="18.62" height="17.47" fill="#df947a"/>
<rect x="1178.30" y="35.83" width="18.62" height="17.47" fill="#f5eba0"/>
<rect x="1195.92" y="35.83" width="18.62" height="17.47" fill="#e5ab83"/>
<rect x="1213.55" y="35.83" width="18.62" height="17.47" fill="#f5eba0"/>
<rect x="1231.17" y="35.83" width="17.62" height="17.47" fill="#df947a"/>
<rect x="720.05" y="52.30" width="18.62" height="17.47" fill="#f5eba0"/>
<rect x="737.67" y="52.30" width="18.62" height="17.47" fill="#eabe8c"/>
<rect x="755.30" y="52.30" width="18.62" height="17.47" fill="#d26d68"/>
<rect x="772.92" y="52.30" width="18.62" height="17.47" fill="#c2434d"/>
<rect x="790.55" y="52.30" width="247.75" height="17.47" fill="#f5eba0"/>
<rect x="1037.30" y="52.30" width="53.88" height="17.47" fill="#e8b688"/>
<rect x="1090.17" y="52.30" width="53.88" height="17.47" fill="#f5eba0"/>
<rect x="1143.05" y="52.30" width="18.62" height="17.47" fill="#d26d68"/>
<rect x="1160.67" y="52.30" width="36.25" height="17.47" fill="#f5eba0"/>
<rect x="1195.92" y="52.30" width="18.62" height="17.47" fill="#e8b688"/>
<rect x="1213.55" y="52.30" width="18.62" height="17.47" fill="#f5eba0"/>
<rect x="1231.17" y="52.30" width="17.62" height="17.47" fill="#df947a"/>
<rect x="720.05" y="68.77" width="18.62" height="17.47" fill="#f5eba0"/>
<rect x="737.67" y="68.77" width="18.62" height="17.47" fill="#e8b688"/>
<rect x="755.30" y="68.77" width="36.25" height="17.47" fill="#f5eba0"/>
<rect x="790.55" y="68.77" width="18.62" height="17.47" fill="#c2434d"/>
<rect x="808.17" y="68.77" width="71.50" height="17.47" fill="#f5eba0"/>
<rect x="878.67" y="68.77" width="18.62" height="17.47" fill="#e8b688"/>
<rect x="896.30" y="68.77" width="53.88" height="17.47" fill="#f5eba0"/>
<rect x="949.17" y="68.77" width="18.62" height="17.47" fill="#c54c52"/>
<rect x="966.80" y="68.77" width="18.62" height="17.47" fill="#d26d68"/>
<rect x="984.42" y="68.77" width="53.88" height="17.47" fill="#f5eba0"/>
<rect x="1037.30" y="68.77" width="53.88" height="17.47" fill="#e8b688"/>
<rect x="1090.17" y="68.77" width="53.88" height="17.47" fill="#f5eba0"/>
<rect x="1143.05" y="68.77" width="18.62" height="17.47" fill="#e5ab83"/>
<rect x="1160.67" y="68.77" width="18.62" height="17.47" fill="#e8b688"/>
<rect x="1178.30" y="68.77" width="18.62" height="17.47" fill="#f5eba0"/>
<rect x="1195.92" y="68.77" width="18.62" height="17.47" fill="#e8b688"/>
<rect x="1213.55" y="68.77" width="35.25" height="17.47" fill="#f5eba0"/>
<rect x="720.05" y="85.23" width="18.62" height="17.47" fill="#f5eba0"/>
<rect x="737.67" y="85.23" width="18.62" height="17.47" fill="#e8b688"/>
<rect x="755.30" y="85.23" width="53.88" height="17.47" fill="#f5eba0"/>
<rect x="808.17" y="85.23" width="18.62" height="17.47" fill="#c2434d"/>
<rect x="825.80" y="85.23" width="53.88" height="17.47" fill="#f5eba0"/>
<rect x="878.67" y="85.23" width="18.62" height="17.47" fill="#e8b688"/>
<rect x="896.30" y="85.23" width="18.62" height="17.47" fill="#e2a07e"/>
<rect x="913.92" y="85.23" width="124.38" height="17.47" fill="#f5eba0"/>
<rect x="1037.30" y="85.23" width="53.88" height="17.47" fill="#e8b688"/>
<rect x="1090.17" y="85.23" width="89.12" height="17.47" fill="#f5eba0"/>
<rect x="1178.30" y="85.23" width="18.62" height="17.47" fill="#efd296"/>
<rect x="1195.92" y="85.23" width="18.62" height="17.47" fill="#e8b688"/>
<rect x="1213.55" y="85.23" width="35.25" height="17.47" fill="#f5eba0"/>
<rect x="720.05" y="101.70" width="18.62" height="17.47" fill="#f5eba0"/>
<rect x="737.67" y="101.70" width="18.62" height="17.47" fill="#e5ab83"/>
<rect x="755.30" y="101.70" width="71.50" height="17.47" fill="#f5eba0"/>
<rect x="825.80" y="101.70" width="18.62" height="17.47" fill="#c2434d"/>
<rect x="843.42" y="101.70" width="18.62" height="17.47" fill="#d26d68"/>
<rect x="861.05" y="101.70" width="18.62" height="17.47" fill="#f5eba0"/>
<rect x="878.67" y="101.70" width="18.62" height="17.47" fill="#e2a07e"/>
<rect x="896.30" y="101.70" width="89.12" height="17.47" fill="#f5eba0"/>
<rect x="984.42" y="101.70" width="18.62" height="17.47" fill="#e2a07e"/>
<rect x="1002.05" y="101.70" width="36.25" height="17.47" fill="#f5eba0"/>
<rect x="1037.30" y="101.70" width="53.88" height="17.47" fill="#e5ab83"/>
<rect x="1090.17" y="101.70" width="18.62" height="17.47" fill="#df947a"/>
<rect x="1107.80" y="101.70" width="18.62" height="17.47" fill="#f5eba0"/>
<rect x="1125.42" y="101.70" width="18.62" height="17.47" fill="#f4e69e"/>
<rect x="1143.05" y="101.70" width="53.88" height="17.47" fill="#f5eba0"/>
<rect x="1195.92" y="101.70" width="18.62" height="17.47" fill="#e5ab83"/>
<rect x="1213.55" y="101.70" width="18.62" height="17.47" fill="#df947a"/>
<rect x="1231.17" y="101.70" width="17.62" height="17.47" fill="#d26d68"/>
<rect x="720.05" y="118.17" width="18.62" height="17.47" fill="#f5eba0"/>
<rect x="737.67" y="118.17" width="18.62" height="17.47" fill="#eabe8c"/>
<rect x="755.30" y="118.17" width="71.50" height="17.47" fill="#f5eba0"/>
<rect x="825.80" y="118.17" width="18.62" height="17.47" fill="#d26d68"/>
<rect x="843.42" y="118.17" width="18.62" height="17.47" fill="#c2434d"/>
<rect x="861.05" y="118.17" width="18.62" height="17.47" fill="#f5eba0"/>
<rect x="878.67" y="118.17" width="18.62" height="17.47" fill="#db8876"/>
<rect x="896.30" y="118.17" width="142.00" height="17.47" fill="#f5eba0"/>
<rect x="1037.30" y="118.17" width="53.88" height="17.47" fill="#eabe8c"/>
<rect x="1090.17" y="118.17" width="53.88" height="17.47" fill="#f5eba0"/>
<rect x="1143.05" y="118.17" width="18.62" height="17.47" fill="#f1da9a"/>
<rect x="1160.67" y="118.17" width="36.25" height="17.47" fill="#f5eba0"/>
<rect x="1195.92" y="118.17" width="18.62" height="17.47" fill="#eabe8c"/>
<rect x="1213.55" y="118.17" width="18.62" height="17.47" fill="#f5eba0"/>
<rect x="1231.17" y="118.17" width="17.62" height="17.47" fill="#cc6060"/>
<rect x="720.05" y="134.63" width="18.62" height="17.47" fill="#f5eba0"/>
<rect x="737.67" y="134.63" width="18.62" height="17.47" fill="#e5ab83"/>
<rect x="755.30" y="134.63" width="106.75" height="17.47" fill="#f5eba0"/>
<rect x="861.05" y="134.63" width="18.62" height="17.47" fill="#c2434d"/>
<rect x="878.67" y="134.63" width="18.62" height="17.47" fill="#f4e69e"/>
<rect x="896.30" y="134.63" width="18.62" height="17.47" fill="#db8876"/>
<rect x="913.92" y="134.63" width="124.38" height="17.47" fill="#f5eba0"/>
<rect x="1037.30" y="134.63" width="53.88" height="17.47" fill="#e5ab83"/>
<rect x="1090.17" y="134.63" width="106.75" height="17.47" fill="#f5eba0"/>
<rect x="1195.92" y="134.63" width="18.62" height="17.47" fill="#e5ab83"/>
<rect x="1213.55" y="134.63" width="18.62" height="17.47" fill="#f5eba0"/>
<rect x="1231.17" y="134.63" width="17.62" height="17.47" fill="#f4e69e"/>
<rect x="720.05" y="151.10" width="18.62" height="17.47" fill="#f5eba0"/>
<rect x="737.67" y="151.10" width="18.62" height="17.47" fill="#e2a07e"/>
<rect x="755.30" y="151.10" width="36.25" height="17.47" fill="#f5eba0"/>
<rect x="790.55" y="151.10" width="36.25" height="17.47" fill="#e8b688"/>
<rect x="825.80" y="151.10" width="18.62" height="17.47" fill="#e2a07e"/>
<rect x="843.42" y="151.10" width="18.62" height="17.47" fill="#db8876"/>
<rect x="861.05" y="151.10" width="18.62" height="17.47" fill="#f4e69e"/>
<rect x="878.67" y="151.10" width="18.62" height="17.47" fill="#c2434d"/>
<rect x="896.30" y="151.10" width="36.25" height="17.47" fill="#e2a07e"/>
<rect x="931.55" y="151.10" width="53.88" height="17.47" fill="#f5eba0"/>
<rect x="984.42" y="151.10" width="53.88" height="17.47" fill="#f4e69e"/>
<rect x="1037.30" y="151.10" width="53.88" height="17.47" fill="#e2a07e"/>
<rect x="1090.17" y="151.10" width="53.88" height="17.47" fill="#f5eba0"/>
<rect x="1143.05" y="151.10" width="18.62" height="17.47" fill="#e2a07e"/>
<rect x="1160.67" y="151.10" width="18.62" height="17.47" fill="#e5ab83"/>
<rect x="1178.30" y="151.10" width="18.62" height="17.47" fill="#edc892"/>
<rect x="1195.92" y="151.10" width="18.62" height="17.47" fill="#e2a07e"/>
<rect x="1213.55" y="151.10" width="18.62" height="17.47" fill="#f4e69e"/>
<rect x="1231.17" y="151.10" width="17.62" height="17.47" fill="#df947a"/>
<rect x="720.05" y="167.57" width="18.62" height="17.47" fill="#f5eba0"/>
<rect x="737.67" y="167.57" width="18.62" height="17.47" fill="#e5ab83"/>
<rect x="755.30" y="167.57" width="53.88" height="17.47" fill="#f5eba0"/>
<rect x="808.17" y="167.57" width="18.62" height="17.47" fill="#e2a07e"/>
<rect x="825.80" y="167.57" width="36.25" height="17.47" fill="#f5eba0"/>
<rect x="861.05" y="167.57" width="18.62" height="17.47" fill="#db8876"/>
<rect x="878.67" y="167.57" width="18.62" height="17.47" fill="#e2a07e"/>
<rect x="896.30" y="167.57" width="18.62" height="17.47" fill="#c2434d"/>
<rect x="913.92" y="167.57" width="71.50" height="17.47" fill="#f5eba0"/>
<rect x="984.42" y="167.57" width="53.88" height="17.47" fill="#f4e69e"/>
<rect x="1037.30" y="167.57" width="53.88" height="17.47" fill="#e5ab83"/>
<rect x="1090.17" y="167.57" width="89.12" height="17.47" fill="#f4e69e"/>
<rect x="1178.30" y="167.57" width="18.62" height="17.47" fill="#eabe8c"/>
<rect x="1195.92" y="167.57" width="18.62" height="17.47" fill="#e5ab83"/>
<rect x="1213.55" y="167.57" width="35.25" height="17.47" fill="#f4e69e"/>
<rect x="720.05" y="184.03" width="18.62" height="17.47" fill="#f5eba0"/>
<rect x="737.67" y="184.03" width="18.62" height="17.47" fill="#e5ab83"/>
<rect x="755.30" y="184.03" width="18.62" height="17.47" fill="#e2a07e"/>
<rect x="772.92" y="184.03" width="106.75" height="17.47" fill="#f5eba0"/>
<rect x="878.67" y="184.03" width="18.62" height="17.47" fill="#e2a07e"/>
<rect x="896.30" y="184.03" width="18.62" height="17.47" fill="#f5eba0"/>
<rect x="913.92" y="184.03" width="18.62" height="17.47" fill="#c2434d"/>
<rect x="931.55" y="184.03" width="106.75" height="17.47" fill="#f5eba0"/>
<rect x="1037.30" y="184.03" width="53.88" height="17.47" fill="#e5ab83"/>
<rect x="1090.17" y="184.03" width="106.75" height="17.47" fill="#f5eba0"/>
<rect x="1195.92" y="184.03" width="18.62" height="17.47" fill="#e5ab83"/>
<rect x="1213.55" y="184.03" width="35.25" height="17.47" fill="#f5eba0"/>
<rect x="720.05" y="200.50" width="18.62" height="17.47" fill="#d26d68"/>
<rect x="737.67" y="200.50" width="18.62" height="17.47" fill="#e5ab83"/>
<rect x="755.30" y="200.50" width="18.62" height="17.47" fill="#e2a07e"/>
<rect x="772.92" y="200.50" width="159.62" height="17.47" fill="#f5eba0"/>
<rect x="931.55" y="200.50" width="18.62" height="17.47" fill="#c2434d"/>
<rect x="949.17" y="200.50" width="18.62" height="17.47" fill="#f5eba0"/>
<rect x="966.80" y="200.50" width="18.62" height="17.47" fill="#f4e69e"/>
<rect x="984.42" y="200.50" width="18.62" height="17.47" fill="#d67a70"/>
<rect x="1002.05" y="200.50" width="18.62" height="17.47" fill="#f4e69e"/>
<rect x="1019.67" y="200.50" width="18.62" height="17.47" fill="#f5eba0"/>
<rect x="1037.30" y="200.50" width="53.88" height="17.47" fill="#e5ab83"/>
<rect x="1090.17" y="200.50" width="18.62" height="17.47" fill="#f4e69e"/>
<rect x="1107.80" y="200.50" width="18.62" height="17.47" fill="#f5eba0"/>
<rect x="1125.42" y="200.50" width="18.62" height="17.47" fill="#d26d68"/>
<rect x="1143.05" y="200.50" width="18.62" height="17.47" fill="#f4e69e"/>
<rect x="1160.67" y="200.50" width="18.62" height="17.47" fill="#d26d68"/>
<rect x="1178.30" y="200.50" width="18.62" height="17.47" fill="#f5eba0"/>
<rect x="1195.92" y="200.50" width="18.62" height="17.47" fill="#e5ab83"/>
<rect x="1213.55" y="200.50" width="18.62" height="17.47" fill="#f5eba0"/>
<rect x="1231.17" y="200.50" width="17.62" height="17.47" fill="#f4e69e"/>
<rect x="720.05" y="216.97" width="18.62" height="17.47" fill="#f5eba0"/>
<rect x="737.67" y="216.97" width="18.62" height="17.47" fill="#edc892"/>
<rect x="755.30" y="216.97" width="36.25" height="17.47" fill="#f5eba0"/>
<rect x="790.55" y="216.97" width="18.62" height="17.47" fill="#c54c52"/>
<rect x="808.17" y="216.97" width="142.00" height="17.47" fill="#f5eba0"/>
<rect x="949.17" y="216.97" width="18.62" height="17.47" fill="#c2434d"/>
<rect x="966.80" y="216.97" width="18.62" height="17.47" fill="#d26d68"/>
<rect x="984.42" y="216.97" width="53.88" height="17.47" fill="#f5eba0"/>
<rect x="1037.30" y="216.97" width="53.88" height="17.47" fill="#edc892"/>
<rect x="1090.17" y="216.97" width="106.75" height="17.47" fill="#f5eba0"/>
<rect x="1195.92" y="216.97" width="18.62" height="17.47" fill="#edc892"/>
<rect x="1213.55" y="216.97" width="35.25" height="17.47" fill="#f5eba0"/>
<rect x="720.05" y="233.43" width="18.62" height="17.47" fill="#f5eba0"/>
<rect x="737.67" y="233.43" width="18.62" height="17.47" fill="#e5ab83"/>
<rect x="755.30" y="233.43" width="36.25" height="17.47" fill="#f5eba0"/>
<rect x="790.55" y="233.43" width="18.62" height="17.47" fill="#d26d68"/>
<rect x="808.17" y="233.43" width="124.38" height="17.47" fill="#f5eba0"/>
<rect x="931.55" y="233.43" width="18.62" height="17.47" fill="#f4e69e"/>
<rect x="949.17" y="233.43" width="18.62" height="17.47" fill="#d26d68"/>
<rect x="966.80" y="233.43" width="18.62" height="17.47" fill="#c2434d"/>
<rect x="984.42" y="233.43" width="53.88" height="17.47" fill="#f4e69e"/>
<rect x="1037.30" y="233.43" width="53.88" height="17.47" fill="#e5ab83"/>
<rect x="1090.17" y="233.43" width="106.75" height="17.47" fill="#f4e69e"/>
<rect x="1195.92" y="233.43" width="18.62" height="17.47" fill="#e5ab83"/>
<rect x="1213.55" y="233.43" width="35.25" height="17.47" fill="#f4e69e"/>
<rect x="720.05" y="249.90" width="18.62" height="17.47" fill="#d26d68"/>
<rect x="737.67" y="249.90" width="18.62" height="17.47" fill="#e5ab83"/>
<rect x="755.30" y="249.90" width="18.62" height="17.47" fill="#e2a07e"/>
<rect x="772.92" y="249.90" width="53.88" height="17.47" fill="#f5eba0"/>
<rect x="825.80" y="249.90" width="18.62" height="17.47" fill="#e2a07e"/>
<rect x="843.42" y="249.90" width="36.25" height="17.47" fill="#f5eba0"/>
<rect x="878.67" y="249.90" width="36.25" height="17.47" fill="#f4e69e"/>
<rect x="913.92" y="249.90" width="18.62" height="17.47" fill="#f5eba0"/>
<rect x="931.55" y="249.90" width="18.62" height="17.47" fill="#d67a70"/>
<rect x="949.17" y="249.90" width="18.62" height="17.47" fill="#f5eba0"/>
<rect x="966.80" y="249.90" width="18.62" height="17.47" fill="#f4e69e"/>
<rect x="984.42" y="249.90" width="18.62" height="17.47" fill="#c2434d"/>
<rect x="1002.05" y="249.90" width="18.62" height="17.47" fill="#f4e69e"/>
<rect x="1019.67" y="249.90" width="18.62" height="17.47" fill="#f5eba0"/>
<rect x="1037.30" y="249.90" width="53.88" height="17.47" fill="#e5ab83"/>
<rect x="1090.17" y="249.90" width="71.50" height="17.47" fill="#f4e69e"/>
<rect x="1160.67" y="249.90" width="18.62" height="17.47" fill="#d26d68"/>
<rect x="1178.30" y="249.90" width="18.62" height="17.47" fill="#f4e69e"/>
<rect x="1195.92" y="249.90" width="18.62" height="17.47" fill="#e5ab83"/>
<rect x="1213.55" y="249.90" width="35.25" height="17.47" fill="#f4e69e"/>
<rect x="720.05" y="266.37" width="18.62" height="17.47" fill="#f5eba0"/>
<rect x="737.67" y="266.37" width="18.62" height="17.47" fill="#e2a07e"/>
<rect x="755.30" y="266.37" width="124.38" height="17.47" fill="#f5eba0"/>
<rect x="878.67" y="266.37" width="36.25" height="17.47" fill="#f4e69e"/>
<rect x="913.92" y="266.37" width="18.62" height="17.47" fill="#f5eba0"/>
<rect x="931.55" y="266.37" width="18.62" height="17.47" fill="#f4e69e"/>
<rect x="949.17" y="266.37" width="18.62" height="17.47" fill="#f5eba0"/>
<rect x="966.80" y="266.37" width="36.25" height="17.47" fill="#f4e69e"/>
<rect x="1002.05" y="266.37" width="18.62" height="17.47" fill="#c2434d"/>
<rect x="1019.67" y="266.37" width="18.62" height="17.47" fill="#d26d68"/>
<rect x="1037.30" y="266.37" width="53.88" height="17.47" fill="#e5ab83"/>
<rect x="1090.17" y="266.37" width="106.75" height="17.47" fill="#f5eba0"/>
<rect x="1195.92" y="266.37" width="18.62" height="17.47" fill="#e5ab83"/>
<rect x="1213.55" y="266.37" width="35.25" height="17.47" fill="#f4e69e"/>
<rect x="720.05" y="282.83" width="18.62" height="17.47" fill="#f5eba0"/>
<rect x="737.67" y="282.83" width="18.62" height="17.47" fill="#eabe8c"/>
<rect x="755.30" y="282.83" width="124.38" height="17.47" fill="#f5eba0"/>
<rect x="878.67" y="282.83" width="36.25" height="17.47" fill="#f4e69e"/>
<rect x="913.92" y="282.83" width="53.88" height="17.47" fill="#f5eba0"/>
<rect x="966.80" y="282.83" width="18.62" height="17.47" fill="#f4e69e"/>
<rect x="984.42" y="282.83" width="18.62" height="17.47" fill="#f5eba0"/>
<rect x="1002.05" y="282.83" width="18.62" height="17.47" fill="#d26d68"/>
<rect x="1019.67" y="282.83" width="18.62" height="17.47" fill="#c2434d"/>
<rect x="1037.30" y="282.83" width="53.88" height="17.47" fill="#eabe8c"/>
<rect x="1090.17" y="282.83" width="106.75" height="17.47" fill="#f5eba0"/>
<rect x="1195.92" y="282.83" width="18.62" height="17.47" fill="#eabe8c"/>
<rect x="1213.55" y="282.83" width="35.25" height="17.47" fill="#f5eba0"/>
<rect x="720.05" y="299.30" width="18.62" height="17.47" fill="#edc892"/>
<rect x="737.67" y="299.30" width="18.62" height="17.47" fill="#c2434d"/>
<rect x="755.30" y="299.30" width="18.62" height="17.47" fill="#e5ab83"/>
<rect x="772.92" y="299.30" width="53.88" height="17.47" fill="#e8b688"/>
<rect x="825.80" y="299.30" width="18.62" height="17.47" fill="#e5ab83"/>
<rect x="843.42" y="299.30" width="18.62" height="17.47" fill="#eabe8c"/>
<rect x="861.05" y="299.30" width="18.62" height="17.47" fill="#e5ab83"/>
<rect x="878.67" y="299.30" width="18.62" height="17.47" fill="#e2a07e"/>
<rect x="896.30" y="299.30" width="53.88" height="17.47" fill="#e5ab83"/>
<rect x="949.17" y="299.30" width="18.62" height="17.47" fill="#edc892"/>
<rect x="966.80" y="299.30" width="53.88" height="17.47" fill="#e5ab83"/>
<rect x="1019.67" y="299.30" width="18.62" height="17.47" fill="#eabe8c"/>
<rect x="1037.30" y="299.30" width="53.88" height="17.47" fill="#c2434d"/>
<rect x="1090.17" y="299.30" width="18.62" height="17.47" fill="#e5ab83"/>
<rect x="1107.80" y="299.30" width="18.62" height="17.47" fill="#eabe8c"/>
<rect x="1125.42" y="299.30" width="18.62" height="17.47" fill="#e8b688"/>
<rect x="1143.05" y="299.30" width="18.62" height="17.47" fill="#e5ab83"/>
<rect x="1160.67" y="299.30" width="18.62" height="17.47" fill="#e8b688"/>
<rect x="1178.30" y="299.30" width="18.62" height="17.47" fill="#e2a07e"/>
<rect x="1195.92" y="299.30" width="18.62" height="17.47" fill="#c2434d"/>
<rect x="1213.55" y="299.30" width="35.25" height="17.47" fill="#e5ab83"/>
<rect x="720.05" y="315.77" width="18.62" height="17.47" fill="#edc892"/>
<rect x="737.67" y="315.77" width="18.62" height="17.47" fill="#c2434d"/>
<rect x="755.30" y="315.77" width="18.62" height="17.47" fill="#e5ab83"/>
<rect x="772.92" y="315.77" width="53.88" height="17.47" fill="#e8b688"/>
<rect x="825.80" y="315.77" width="18.62" height="17.47" fill="#e5ab83"/>
<rect x="843.42" y="315.77" width="18.62" height="17.47" fill="#eabe8c"/>
<rect x="861.05" y="315.77" width="18.62" height="17.47" fill="#e5ab83"/>
<rect x="878.67" y="315.77" width="18.62" height="17.47" fill="#e2a07e"/>
<rect x="896.30" y="315.77" width="53.88" height="17.47" fill="#e5ab83"/>
<rect x="949.17" y="315.77" width="18.62" height="17.47" fill="#edc892"/>
<rect x="966.80" y="315.77" width="53.88" height="17.47" fill="#e5ab83"/>
<rect x="1019.67" y="315.77" width="18.62" height="17.47" fill="#eabe8c"/>
<rect x="1037.30" y="315.77" width="53.88" height="17.47" fill="#c2434d"/>
<rect x="1090.17" y="315.77" width="18.62" height="17.47" fill="#e5ab83"/>
<rect x="1107.80" y="315.77" width="18.62" height="17.47" fill="#eabe8c"/>
<rect x="1125.42" y="315.77" width="18.62" height="17.47" fill="#e8b688"/>
<rect x="1143.05" y="315.77" width="18.62" height="17.47" fill="#e5ab83"/>
<rect x="1160.67" y="315.77" width="18.62" height="17.47" fill="#e8b688"/>
<rect x="1178.30" y="315.77" width="18.62" height="17.47" fill="#e2a07e"/>
<rect x="1195.92" y="315.77" width="18.62" height="17.47" fill="#c2434d"/>
<rect x="1213.55" y="315.77" width="35.25" height="17.47" fill="#e5ab83"/>
<rect x="720.05" y="332.23" width="18.62" height="17.47" fill="#edc892"/>
<rect x="737.67" y="332.23" width="18.62" height="17.47" fill="#c2434d"/>
<rect x="755.30" y="332.23" width="18.62" height="17.47" fill="#e5ab83"/>
<rect x="772.92" y="332.23" width="53.88" height="17.47" fill="#e8b688"/>
<rect x="825.80" y="332.23" width="18.62" height="17.47" fill="#e5ab83"/>
<rect x="843.42" y="332.23" width="18.62" height="17.47" fill="#eabe8c"/>
<rect x="861.05" y="332.23" width="18.62" height="17.47" fill="#e5ab83"/>
<rect x="878.67" y="332.23" width="18.62" height="17.47" fill="#e2a07e"/>
<rect x="896.30" y="332.23" width="53.88" height="17.47" fill="#e5ab83"/>
<rect x="949.17" y="332.23" width="18.62" height="17.47" fill="#edc892"/>
<rect x="966.80" y="332.23" width="53.88" height="17.47" fill="#e5ab83"/>
<rect x="1019.67" y="332.23" width="18.62" height="17.47" fill="#eabe8c"/>
<rect x="1037.30" y="332.23" width="53.88" height="17.47" fill="#c2434d"/>
<rect x="1090.17" y="332.23" width="18.62" height="17.47" fill="#e5ab83"/>
<rect x="1107.80" y="332.23" width="18.62" height="17.47" fill="#eabe8c"/>
<rect x="1125.42" y="332.23" width="18.62" height="17.47" fill="#e8b688"/>
<rect x="1143.05" y="332.23" width="18.62" height="17.47" fill="#e5ab83"/>
<rect x="1160.67" y="332.23" width="18.62" height="17.47" fill="#e8b688"/>
<rect x="1178.30" y="332.23" width="18.62" height="17.47" fill="#e2a07e"/>
<rect x="1195.92" y="332.23" width="18.62" height="17.47" fill="#c2434d"/>
<rect x="1213.55" y="332.23" width="35.25" height="17.47" fill="#e5ab83"/>
<rect x="720.05" y="348.70" width="18.62" height="17.47" fill="#f5eba0"/>
<rect x="737.67" y="348.70" width="18.62" height="17.47" fill="#e5ab83"/>
<rect x="755.30" y="348.70" width="71.50" height="17.47" fill="#f5eba0"/>
<rect x="825.80" y="348.70" width="18.62" height="17.47" fill="#df947a"/>
<rect x="843.42" y="348.70" width="53.88" height="17.47" fill="#f5eba0"/>
<rect x="896.30" y="348.70" width="18.62" height="17.47" fill="#f4e69e"/>
<rect x="913.92" y="348.70" width="18.62" height="17.47" fill="#f5eba0"/>
<rect x="931.55" y="348.70" width="18.62" height="17.47" fill="#f4e69e"/>
<rect x="949.17" y="348.70" width="18.62" height="17.47" fill="#f5eba0"/>
<rect x="966.80" y="348.70" width="36.25" height="17.47" fill="#f4e69e"/>
<rect x="1002.05" y="348.70" width="36.25" height="17.47" fill="#f5eba0"/>
<rect x="1037.30" y="348.70" width="53.88" height="17.47" fill="#e5ab83"/>
<rect x="1090.17" y="348.70" width="18.62" height="17.47" fill="#c2434d"/>
<rect x="1107.80" y="348.70" width="89.12" height="17.47" fill="#f5eba0"/>
<rect x="1195.92" y="348.70" width="18.62" height="17.47" fill="#e5ab83"/>
<rect x="1213.55" y="348.70" width="18.62" height="17.47" fill="#c2434d"/>
<rect x="1231.17" y="348.70" width="17.62" height="17.47" fill="#f4e69e"/>
<rect x="720.05" y="365.17" width="18.62" height="17.47" fill="#f5eba0"/>
<rect x="737.67" y="365.17" width="18.62" height="17.47" fill="#eabe8c"/>
<rect x="755.30" y="365.17" width="18.62" height="17.47" fill="#f1da9a"/>
<rect x="772.92" y="365.17" width="124.38" height="17.47" fill="#f5eba0"/>
<rect x="896.30" y="365.17" width="18.62" height="17.47" fill="#f4e69e"/>
<rect x="913.92" y="365.17" width="53.88" height="17.47" fill="#f5eba0"/>
<rect x="966.80" y="365.17" width="36.25" height="17.47" fill="#f4e69e"/>
<rect x="1002.05" y="365.17" width="36.25" height="17.47" fill="#f5eba0"/>
<rect x="1037.30" y="365.17" width="53.88" height="17.47" fill="#eabe8c"/>
<rect x="1090.17" y="365.17" width="18.62" height="17.47" fill="#f5eba0"/>
<rect x="1107.80" y="365.17" width="18.62" height="17.47" fill="#c2434d"/>
<rect x="1125.42" y="365.17" width="71.50" height="17.47" fill="#f5eba0"/>
<rect x="1195.92" y="365.17" width="18.62" height="17.47" fill="#eabe8c"/>
<rect x="1213.55" y="365.17" width="18.62" height="17.47" fill="#f5eba0"/>
<rect x="1231.17" y="365.17" width="17.62" height="17.47" fill="#efd296"/>
<rect x="720.05" y="381.63" width="18.62" height="17.47" fill="#f5eba0"/>
<rect x="737.67" y="381.63" width="18.62" height="17.47" fill="#e8b688"/>
<rect x="755.30" y="381.63" width="18.62" height="17.47" fill="#f4e69e"/>
<rect x="772.92" y="381.63" width="53.88" height="17.47" fill="#f5eba0"/>
<rect x="825.80" y="381.63" width="18.62" height="17.47" fill="#f4e69e"/>
<rect x="843.42" y="381.63" width="53.88" height="17.47" fill="#f5eba0"/>
<rect x="896.30" y="381.63" width="18.62" height="17.47" fill="#f4e69e"/>
<rect x="913.92" y="381.63" width="18.62" height="17.47" fill="#f5eba0"/>
<rect x="931.55" y="381.63" width="18.62" height="17.47" fill="#d26d68"/>
<rect x="949.17" y="381.63" width="18.62" height="17.47" fill="#f5eba0"/>
<rect x="966.80" y="381.63" width="36.25" height="17.47" fill="#f4e69e"/>
<rect x="1002.05" y="381.63" width="36.25" height="17.47" fill="#f5eba0"/>
<rect x="1037.30" y="381.63" width="53.88" height="17.47" fill="#e8b688"/>
<rect x="1090.17" y="381.63" width="36.25" height="17.47" fill="#f5eba0"/>
<rect x="1125.42" y="381.63" width="18.62" height="17.47" fill="#c2434d"/>
<rect x="1143.05" y="381.63" width="53.88" height="17.47" fill="#f4e69e"/>
<rect x="1195.92" y="381.63" width="18.62" height="17.47" fill="#e8b688"/>
<rect x="1213.55" y="381.63" width="18.62" height="17.47" fill="#f5eba0"/>
<rect x="1231.17" y="381.63" width="17.62" height="17.47" fill="#f4e69e"/>
<rect x="720.05" y="398.10" width="18.62" height="17.47" fill="#f5eba0"/>
<rect x="737.67" y="398.10" width="18.62" height="17.47" fill="#e5ab83"/>
<rect x="755.30" y="398.10" width="18.62" height="17.47" fill="#db8876"/>
<rect x="772.92" y="398.10" width="18.62" height="17.47" fill="#d26d68"/>
<rect x="790.55" y="398.10" width="18.62" height="17.47" fill="#e5ab83"/>
<rect x="808.17" y="398.10" width="36.25" height="17.47" fill="#f5eba0"/>
<rect x="843.42" y="398.10" width="18.62" height="17.47" fill="#f1da9a"/>
<rect x="861.05" y="398.10" width="18.62" height="17.47" fill="#f5eba0"/>
<rect x="878.67" y="398.10" width="18.62" height="17.47" fill="#e2a07e"/>
<rect x="896.30" y="398.10" width="18.62" height="17.47" fill="#f4e69e"/>
<rect x="913.92" y="398.10" width="18.62" height="17.47" fill="#f5eba0"/>
<rect x="931.55" y="398.10" width="18.62" height="17.47" fill="#f4e69e"/>
<rect x="949.17" y="398.10" width="18.62" height="17.47" fill="#f5eba0"/>
<rect x="966.80" y="398.10" width="36.25" height="17.47" fill="#f4e69e"/>
<rect x="1002.05" y="398.10" width="36.25" height="17.47" fill="#f5eba0"/>
<rect x="1037.30" y="398.10" width="53.88" height="17.47" fill="#e5ab83"/>
<rect x="1090.17" y="398.10" width="36.25" height="17.47" fill="#f5eba0"/>
<rect x="1125.42" y="398.10" width="18.62" height="17.47" fill="#f4e69e"/>
<rect x="1143.05" y="398.10" width="18.62" height="17.47" fill="#c2434d"/>
<rect x="1160.67" y="398.10" width="18.62" height="17.47" fill="#e5ab83"/>
<rect x="1178.30" y="398.10" width="18.62" height="17.47" fill="#f5eba0"/>
<rect x="1195.92" y="398.10" width="18.62" height="17.47" fill="#e5ab83"/>
<rect x="1213.55" y="398.10" width="18.62" height="17.47" fill="#f5eba0"/>
<rect x="1231.17" y="398.10" width="17.62" height="17.47" fill="#e5ab83"/>
<rect x="720.05" y="414.57" width="18.62" height="17.47" fill="#c85558"/>
<rect x="737.67" y="414.57" width="18.62" height="17.47" fill="#e8b688"/>
<rect x="755.30" y="414.57" width="18.62" height="17.47" fill="#df947a"/>
<rect x="772.92" y="414.57" width="18.62" height="17.47" fill="#f5eba0"/>
<rect x="790.55" y="414.57" width="18.62" height="17.47" fill="#e8b688"/>
<rect x="808.17" y="414.57" width="71.50" height="17.47" fill="#f5eba0"/>
<rect x="878.67" y="414.57" width="18.62" height="17.47" fill="#e5ab83"/>
<rect x="896.30" y="414.57" width="18.62" height="17.47" fill="#f4e69e"/>
<rect x="913.92" y="414.57" width="18.62" height="17.47" fill="#f5eba0"/>
<rect x="931.55" y="414.57" width="18.62" height="17.47" fill="#d26d68"/>
<rect x="949.17" y="414.57" width="18.62" height="17.47" fill="#f5eba0"/>
<rect x="966.80" y="414.57" width="18.62" height="17.47" fill="#f4e69e"/>
<rect x="984.42" y="414.57" width="18.62" height="17.47" fill="#d26d68"/>
<rect x="1002.05" y="414.57" width="36.25" height="17.47" fill="#f5eba0"/>
<rect x="1037.30" y="414.57" width="53.88" height="17.47" fill="#e8b688"/>
<rect x="1090.17" y="414.57" width="36.25" height="17.47" fill="#f5eba0"/>
<rect x="1125.42" y="414.57" width="18.62" height="17.47" fill="#f4e69e"/>
<rect x="1143.05" y="414.57" width="18.62" height="17.47" fill="#e5ab83"/>
<rect x="1160.67" y="414.57" width="18.62" height="17.47" fill="#c2434d"/>
<rect x="1178.30" y="414.57" width="18.62" height="17.47" fill="#f5eba0"/>
<rect x="1195.92" y="414.57" width="18.62" height="17.47" fill="#e8b688"/>
<rect x="1213.55" y="414.57" width="35.25" height="17.47" fill="#f5eba0"/>
<rect x="720.05" y="431.03" width="18.62" height="17.47" fill="#f5eba0"/>
<rect x="737.67" y="431.03" width="18.62" height="17.47" fill="#e2a07e"/>
<rect x="755.30" y="431.03" width="53.88" height="17.47" fill="#f5eba0"/>
<rect x="808.17" y="431.03" width="18.62" height="17.47" fill="#efd296"/>
<rect x="825.80" y="431.03" width="53.88" height="17.47" fill="#f5eba0"/>
<rect x="878.67" y="431.03" width="18.62" height="17.47" fill="#edc892"/>
<rect x="896.30" y="431.03" width="18.62" height="17.47" fill="#eabe8c"/>
<rect x="913.92" y="431.03" width="53.88" height="17.47" fill="#f5eba0"/>
<rect x="966.80" y="431.03" width="36.25" height="17.47" fill="#f4e69e"/>
<rect x="1002.05" y="431.03" width="36.25" height="17.47" fill="#f5eba0"/>
<rect x="1037.30" y="431.03" width="53.88" height="17.47" fill="#e2a07e"/>
<rect x="1090.17" y="431.03" width="36.25" height="17.47" fill="#f5eba0"/>
<rect x="1125.42" y="431.03" width="18.62" height="17.47" fill="#f4e69e"/>
<rect x="1143.05" y="431.03" width="36.25" height="17.47" fill="#f5eba0"/>
<rect x="1178.30" y="431.03" width="18.62" height="17.47" fill="#c2434d"/>
<rect x="1195.92" y="431.03" width="18.62" height="17.47" fill="#e2a07e"/>
<rect x="1213.55" y="431.03" width="35.25" height="17.47" fill="#f5eba0"/>
<rect x="720.05" y="447.50" width="18.62" height="17.47" fill="#edc892"/>
<rect x="737.67" y="447.50" width="18.62" height="17.47" fill="#c2434d"/>
<rect x="755.30" y="447.50" width="18.62" height="17.47" fill="#e5ab83"/>
<rect x="772.92" y="447.50" width="53.88" height="17.47" fill="#e8b688"/>
<rect x="825.80" y="447.50" width="18.62" height="17.47" fill="#e5ab83"/>
<rect x="843.42" y="447.50" width="18.62" height="17.47" fill="#eabe8c"/>
<rect x="861.05" y="447.50" width="18.62" height="17.47" fill="#e5ab83"/>
<rect x="878.67" y="447.50" width="18.62" height="17.47" fill="#e2a07e"/>
<rect x="896.30" y="447.50" width="53.88" height="17.47" fill="#e5ab83"/>
<rect x="949.17" y="447.50" width="18.62" height="17.47" fill="#edc892"/>
<rect x="966.80" y="447.50" width="53.88" height="17.47" fill="#e5ab83"/>
<rect x="1019.67" y="447.50" width="18.62" height="17.47" fill="#eabe8c"/>
<rect x="1037.30" y="447.50" width="53.88" height="17.47" fill="#c2434d"/>
<rect x="1090.17" y="447.50" width="18.62" height="17.47" fill="#e5ab83"/>
<rect x="1107.80" y="447.50" width="18.62" height="17.47" fill="#eabe8c"/>
<rect x="1125.42" y="447.50" width="18.62" height="17.47" fill="#e8b688"/>
<rect x="1143.05" y="447.50" width="18.62" height="17.47" fill="#e5ab83"/>
<rect x="1160.67" y="447.50" width="18.62" height="17.47" fill="#e8b688"/>
<rect x="1178.30" y="447.50" width="18.62" height="17.47" fill="#e2a07e"/>
<rect x="1195.92" y="447.50" width="18.62" height="17.47" fill="#c2434d"/>
<rect x="1213.55" y="447.50" width="35.25" height="17.47" fill="#e5ab83"/>
<rect x="720.05" y="463.97" width="18.62" height="17.47" fill="#f5eba0"/>
<rect x="737.67" y="463.97" width="18.62" height="17.47" fill="#e5ab83"/>
<rect x="755.30" y="463.97" width="71.50" height="17.47" fill="#f5eba0"/>
<rect x="825.80" y="463.97" width="18.62" height="17.47" fill="#df947a"/>
<rect x="843.42" y="463.97" width="36.25" height="17.47" fill="#f5eba0"/>
<rect x="878.67" y="463.97" width="36.25" height="17.47" fill="#f4e69e"/>
<rect x="913.92" y="463.97" width="53.88" height="17.47" fill="#f5eba0"/>
<rect x="966.80" y="463.97" width="53.88" height="17.47" fill="#f4e69e"/>
<rect x="1019.67" y="463.97" width="18.62" height="17.47" fill="#f5eba0"/>
<rect x="1037.30" y="463.97" width="53.88" height="17.47" fill="#e5ab83"/>
<rect x="1090.17" y="463.97" width="18.62" height="17.47" fill="#c2434d"/>
<rect x="1107.80" y="463.97" width="89.12" height="17.47" fill="#f5eba0"/>
<rect x="1195.92" y="463.97" width="18.62" height="17.47" fill="#e5ab83"/>
<rect x="1213.55" y="463.97" width="18.62" height="17.47" fill="#c2434d"/>
<rect x="1231.17" y="463.97" width="17.62" height="17.47" fill="#f5eba0"/>
<rect x="720.05" y="480.43" width="18.62" height="16.47" fill="#f5eba0"/>
<rect x="737.67" y="480.43" width="18.62" height="16.47" fill="#e5ab83"/>
<rect x="755.30" y="480.43" width="36.25" height="16.47" fill="#df947a"/>
<rect x="790.55" y="480.43" width="36.25" height="16.47" fill="#f5eba0"/>
<rect x="825.80" y="480.43" width="18.62" height="16.47" fill="#d26d68"/>
<rect x="843.42" y="480.43" width="18.62" height="16.47" fill="#cc6060"/>
<rect x="861.05" y="480.43" width="18.62" height="16.47" fill="#f4e69e"/>
<rect x="878.67" y="480.43" width="18.62" height="16.47" fill="#df947a"/>
<rect x="896.30" y="480.43" width="18.62" height="16.47" fill="#f4e69e"/>
<rect x="913.92" y="480.43" width="18.62" height="16.47" fill="#f5eba0"/>
<rect x="931.55" y="480.43" width="18.62" height="16.47" fill="#f4e69e"/>
<rect x="949.17" y="480.43" width="18.62" height="16.47" fill="#f5eba0"/>
<rect x="966.80" y="480.43" width="53.88" height="16.47" fill="#f4e69e"/>
<rect x="1019.67" y="480.43" width="18.62" height="16.47" fill="#f5eba0"/>
<rect x="1037.30" y="480.43" width="53.88" height="16.47" fill="#e5ab83"/>
<rect x="1090.17" y="480.43" width="18.62" height="16.47" fill="#f4e69e"/>
<rect x="1107.80" y="480.43" width="18.62" height="16.47" fill="#efd296"/>
<rect x="1125.42" y="480.43" width="18.62" height="16.47" fill="#f4e69e"/>
<rect x="1143.05" y="480.43" width="18.62" height="16.47" fill="#e5ab83"/>
<rect x="1160.67" y="480.43" width="36.25" height="16.47" fill="#f5eba0"/>
<rect x="1195.92" y="480.43" width="18.62" height="16.47" fill="#e5ab83"/>
<rect x="1213.55" y="480.43" width="18.62" height="16.47" fill="#f5eba0"/>
<rect x="1231.17" y="480.43" width="17.62" height="16.47" fill="#c2434d"/>
</g>
<rect x="727.96" y="496.90" width="1.8" height="6.6" fill="#111"/>
<rect x="713.65" y="11.10" width="6.4" height="1.8" fill="#111"/>
<text transform="translate(728.86 524.40) scale(0.92 1)" text-anchor="middle" class="tk">0</text>
<text transform="translate(703.75 13.85) rotate(-90) scale(0.92 1)" text-anchor="middle" class="tk">0</text>
<rect x="763.21" y="496.90" width="1.8" height="6.6" fill="#111"/>
<rect x="713.65" y="43.92" width="6.4" height="1.8" fill="#111"/>
<text transform="translate(764.11 524.40) scale(0.92 1)" text-anchor="middle" class="tk">2</text>
<text transform="translate(703.75 46.65) rotate(-90) scale(0.92 1)" text-anchor="middle" class="tk">2</text>
<rect x="798.46" y="496.90" width="1.8" height="6.6" fill="#111"/>
<rect x="713.65" y="76.74" width="6.4" height="1.8" fill="#111"/>
<text transform="translate(799.36 524.40) scale(0.92 1)" text-anchor="middle" class="tk">4</text>
<text transform="translate(703.75 79.45) rotate(-90) scale(0.92 1)" text-anchor="middle" class="tk">4</text>
<rect x="833.71" y="496.90" width="1.8" height="6.6" fill="#111"/>
<rect x="713.65" y="109.56" width="6.4" height="1.8" fill="#111"/>
<text transform="translate(834.61 524.40) scale(0.92 1)" text-anchor="middle" class="tk">6</text>
<text transform="translate(703.75 112.25) rotate(-90) scale(0.92 1)" text-anchor="middle" class="tk">6</text>
<rect x="868.96" y="496.90" width="1.8" height="6.6" fill="#111"/>
<rect x="713.65" y="142.38" width="6.4" height="1.8" fill="#111"/>
<text transform="translate(869.86 524.40) scale(0.92 1)" text-anchor="middle" class="tk">8</text>
<text transform="translate(703.75 145.05) rotate(-90) scale(0.92 1)" text-anchor="middle" class="tk">8</text>
<rect x="904.21" y="496.90" width="1.8" height="6.6" fill="#111"/>
<rect x="713.65" y="175.20" width="6.4" height="1.8" fill="#111"/>
<text transform="translate(905.11 524.40) scale(0.92 1)" text-anchor="middle" class="tk">10</text>
<text transform="translate(703.75 177.85) rotate(-90) scale(0.92 1)" text-anchor="middle" class="tk">10</text>
<rect x="939.46" y="496.90" width="1.8" height="6.6" fill="#111"/>
<rect x="713.65" y="208.02" width="6.4" height="1.8" fill="#111"/>
<text transform="translate(940.36 524.40) scale(0.92 1)" text-anchor="middle" class="tk">12</text>
<text transform="translate(703.75 210.65) rotate(-90) scale(0.92 1)" text-anchor="middle" class="tk">12</text>
<rect x="974.71" y="496.90" width="1.8" height="6.6" fill="#111"/>
<rect x="713.65" y="240.84" width="6.4" height="1.8" fill="#111"/>
<text transform="translate(975.61 524.40) scale(0.92 1)" text-anchor="middle" class="tk">14</text>
<text transform="translate(703.75 243.45) rotate(-90) scale(0.92 1)" text-anchor="middle" class="tk">14</text>
<rect x="1009.96" y="496.90" width="1.8" height="6.6" fill="#111"/>
<rect x="713.65" y="273.66" width="6.4" height="1.8" fill="#111"/>
<text transform="translate(1010.86 524.40) scale(0.92 1)" text-anchor="middle" class="tk">16</text>
<text transform="translate(703.75 276.25) rotate(-90) scale(0.92 1)" text-anchor="middle" class="tk">16</text>
<rect x="1045.21" y="496.90" width="1.8" height="6.6" fill="#111"/>
<rect x="713.65" y="306.48" width="6.4" height="1.8" fill="#111"/>
<text transform="translate(1046.11 524.40) scale(0.92 1)" text-anchor="middle" class="tk">18</text>
<text transform="translate(703.75 309.05) rotate(-90) scale(0.92 1)" text-anchor="middle" class="tk">18</text>
<rect x="1080.46" y="496.90" width="1.8" height="6.6" fill="#111"/>
<rect x="713.65" y="339.30" width="6.4" height="1.8" fill="#111"/>
<text transform="translate(1081.36 524.40) scale(0.92 1)" text-anchor="middle" class="tk">20</text>
<text transform="translate(703.75 341.85) rotate(-90) scale(0.92 1)" text-anchor="middle" class="tk">20</text>
<rect x="1115.71" y="496.90" width="1.8" height="6.6" fill="#111"/>
<rect x="713.65" y="372.12" width="6.4" height="1.8" fill="#111"/>
<text transform="translate(1116.61 524.40) scale(0.92 1)" text-anchor="middle" class="tk">22</text>
<text transform="translate(703.75 374.65) rotate(-90) scale(0.92 1)" text-anchor="middle" class="tk">22</text>
<rect x="1150.96" y="496.90" width="1.8" height="6.6" fill="#111"/>
<rect x="713.65" y="404.94" width="6.4" height="1.8" fill="#111"/>
<text transform="translate(1151.86 524.40) scale(0.92 1)" text-anchor="middle" class="tk">24</text>
<text transform="translate(703.75 407.45) rotate(-90) scale(0.92 1)" text-anchor="middle" class="tk">24</text>
<rect x="1186.21" y="496.90" width="1.8" height="6.6" fill="#111"/>
<rect x="713.65" y="437.76" width="6.4" height="1.8" fill="#111"/>
<text transform="translate(1187.11 524.40) scale(0.92 1)" text-anchor="middle" class="tk">26</text>
<text transform="translate(703.75 440.25) rotate(-90) scale(0.92 1)" text-anchor="middle" class="tk">26</text>
<rect x="1221.46" y="496.90" width="1.8" height="6.6" fill="#111"/>
<rect x="713.65" y="470.58" width="6.4" height="1.8" fill="#111"/>
<text transform="translate(1222.36 524.40) scale(0.92 1)" text-anchor="middle" class="tk">28</text>
<text transform="translate(703.75 473.05) rotate(-90) scale(0.92 1)" text-anchor="middle" class="tk">28</text>
<linearGradient id="gb" x1="0" y1="1" x2="0" y2="0"><stop offset="0.00" stop-color="#FFFCF3"/><stop offset="0.10" stop-color="#FBF3D6"/><stop offset="0.20" stop-color="#F6E2AA"/><stop offset="0.30" stop-color="#F1D196"/><stop offset="0.40" stop-color="#ECBE8C"/><stop offset="0.50" stop-color="#E6A882"/><stop offset="0.60" stop-color="#E09078"/><stop offset="0.70" stop-color="#DA766A"/><stop offset="0.80" stop-color="#D35A54"/><stop offset="0.90" stop-color="#C84246"/><stop offset="1.00" stop-color="#BC2A38"/></linearGradient>
<rect x="1279.20" y="4.00" width="28.70" height="492.90" fill="url(#gb)"/>
<rect x="1307.90" y="396.76" width="5.5" height="1.8" fill="#111"/>
<text transform="translate(1319.60 404.76) scale(0.92 1)" class="tk">0.2</text>
<rect x="1307.90" y="298.42" width="5.5" height="1.8" fill="#111"/>
<text transform="translate(1319.60 306.42) scale(0.92 1)" class="tk">0.4</text>
<rect x="1307.90" y="200.08" width="5.5" height="1.8" fill="#111"/>
<text transform="translate(1319.60 208.08) scale(0.92 1)" class="tk">0.6</text>
<rect x="1307.90" y="101.74" width="5.5" height="1.8" fill="#111"/>
<text transform="translate(1319.60 109.74) scale(0.92 1)" class="tk">0.8</text>
<text y="553.5" class="cap"><tspan x="121.0">(a) </tspan><tspan x="155.0" style="letter-spacing:0.46px">Similarity between attributes features</tspan></text>
<text x="993.6" y="553.5" text-anchor="middle" class="cap">(b) Similarity between textual features</text>
</svg>
</body></html>
